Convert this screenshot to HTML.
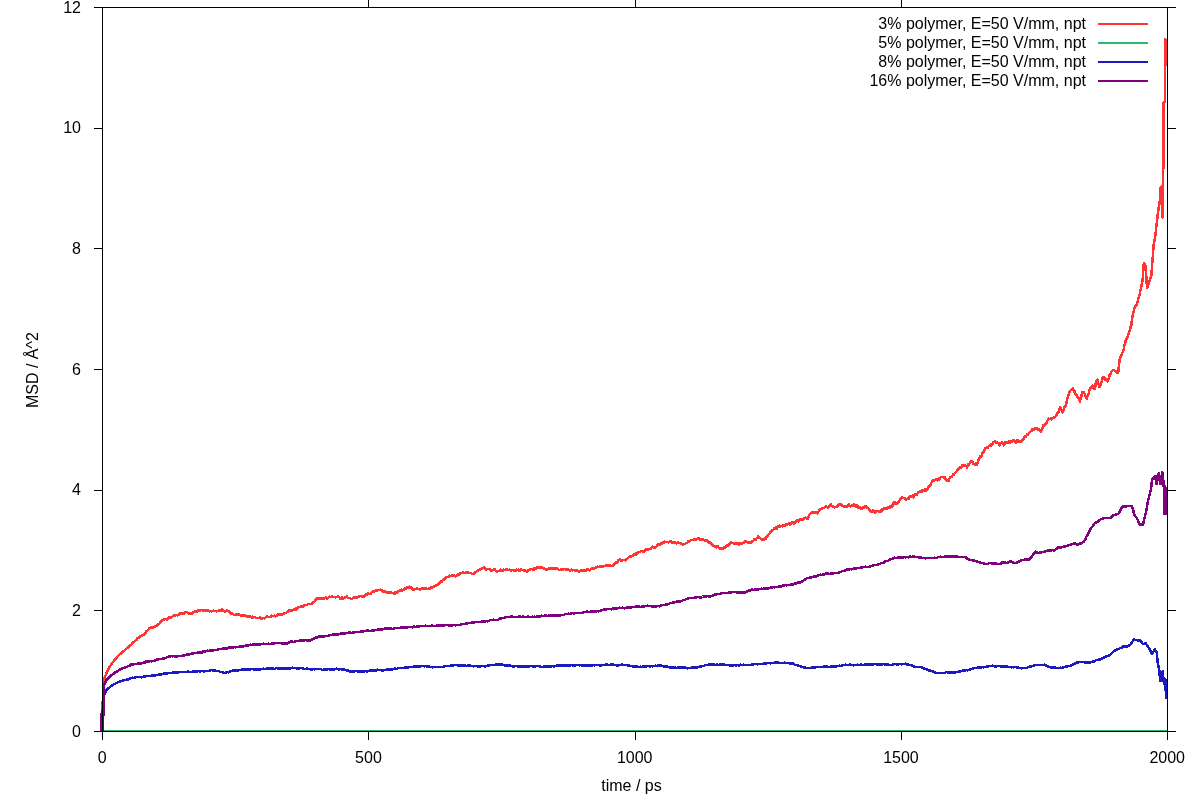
<!DOCTYPE html>
<html><head><meta charset="utf-8"><style>
html,body{margin:0;padding:0;background:#fff;width:1200px;height:800px;overflow:hidden}
svg{display:block;will-change:transform}
text{font-family:"Liberation Sans",sans-serif;font-size:16px;fill:#000}
</style></head><body>
<svg width="1200" height="800" viewBox="0 0 1200 800">
<rect width="1200" height="800" fill="#fff"/>
<g fill="none" stroke-linejoin="round" stroke-linecap="butt" shape-rendering="crispEdges">
<path d="M102.50,731.50 102.50,714.00 103.10,684.00 103.73,681.50 104.37,679.00 105.00,676.50 105.54,675.33 106.07,674.16 106.61,672.99 107.14,671.81 107.68,670.64 108.21,669.47 108.75,668.30 109.29,667.47 109.82,666.64 110.36,665.81 110.89,664.99 111.43,664.16 111.96,663.33 112.50,662.50 113.07,661.84 113.64,661.17 114.20,660.51 114.77,659.85 115.34,659.18 115.91,658.52 116.48,657.85 117.05,657.19 117.61,656.53 118.18,655.86 118.75,655.20 119.32,654.73 119.89,654.25 120.45,653.78 121.02,653.31 121.59,652.84 122.16,652.36 122.73,651.89 123.30,651.42 123.86,650.95 124.43,650.47 125.00,650.00 125.57,649.49 126.14,648.98 126.70,648.47 127.27,647.96 127.84,647.45 128.41,646.95 128.98,646.44 129.55,645.93 130.11,644.99 130.68,645.13 131.25,645.12 131.82,643.84 132.39,642.81 132.95,642.46 133.52,642.38 134.09,641.92 134.66,641.50 135.23,640.53 135.80,640.34 136.36,640.26 136.93,639.41 137.50,638.27 138.07,637.73 138.64,637.85 139.20,636.79 139.77,636.62 140.34,636.00 140.91,635.81 141.48,635.51 142.05,635.28 142.61,635.59 143.18,635.23 143.75,635.23 144.32,634.38 144.89,633.51 145.45,633.10 146.02,631.36 146.59,631.16 147.16,630.94 147.73,630.05 148.30,629.98 148.86,629.34 149.43,627.98 150.00,627.81 150.57,627.50 151.14,627.40 151.70,627.41 152.27,627.91 152.84,627.70 153.41,627.43 153.98,627.35 154.55,626.33 155.11,626.80 155.68,626.11 156.25,626.18 156.82,625.24 157.39,624.49 157.95,624.06 158.52,624.53 159.09,624.19 159.66,623.26 160.23,622.60 160.80,621.64 161.36,621.28 161.93,620.65 162.50,620.58 163.07,619.81 163.64,619.64 164.20,619.24 164.77,618.95 165.34,619.26 165.91,619.15 166.48,619.19 167.05,619.38 167.61,619.42 168.18,618.35 168.75,618.33 169.32,617.28 169.89,617.18 170.45,617.82 171.02,617.31 171.59,616.81 172.16,616.60 172.73,616.32 173.30,616.04 173.86,615.46 174.43,615.72 175.00,615.73 175.56,615.31 176.11,615.19 176.67,615.20 177.22,615.31 177.78,615.07 178.33,614.98 178.89,614.48 179.44,613.77 180.00,613.48 180.56,613.84 181.11,614.01 181.67,613.74 182.22,613.22 182.78,613.18 183.33,613.64 183.89,613.77 184.44,612.99 185.00,612.67 185.55,612.05 186.09,611.78 186.64,612.15 187.18,612.36 187.73,612.89 188.27,613.38 188.82,613.55 189.36,613.88 189.91,613.37 190.45,612.81 191.00,613.11 191.53,613.93 192.07,613.46 192.60,612.46 193.13,612.29 193.67,612.57 194.20,611.69 194.73,611.77 195.27,611.18 195.80,611.47 196.33,611.39 196.87,611.07 197.40,611.46 197.93,610.68 198.47,609.96 199.00,610.44 199.53,609.90 200.07,610.81 200.60,610.55 201.13,610.00 201.67,610.08 202.20,610.22 202.73,610.38 203.27,610.35 203.80,610.88 204.33,609.89 204.87,609.97 205.40,610.18 205.93,611.19 206.47,610.35 207.00,610.49 207.53,610.16 208.07,610.12 208.60,610.60 209.13,610.82 209.67,611.37 210.20,610.90 210.73,610.92 211.27,611.29 211.80,611.41 212.33,610.98 212.87,611.27 213.40,610.62 213.93,611.27 214.47,611.03 215.00,610.75 215.55,610.77 216.09,611.02 216.64,611.56 217.18,611.17 217.73,610.83 218.27,611.00 218.82,610.53 219.36,609.89 219.91,610.50 220.45,610.42 221.00,610.99 221.55,610.50 222.09,609.44 222.64,610.02 223.18,610.36 223.73,611.18 224.27,611.31 224.82,611.31 225.36,611.44 225.91,611.14 226.45,611.14 227.00,610.56 227.53,611.14 228.07,611.07 228.60,611.25 229.13,611.90 229.67,612.50 230.20,612.20 230.73,613.29 231.27,613.04 231.80,613.53 232.33,613.98 232.87,614.06 233.40,614.17 233.93,614.97 234.47,615.21 235.00,615.27 235.56,614.31 236.11,614.12 236.67,614.78 237.22,614.86 237.78,614.46 238.33,614.34 238.89,614.42 239.44,614.90 240.00,615.11 240.56,615.52 241.11,615.08 241.67,615.54 242.22,615.26 242.78,615.18 243.33,615.97 243.89,615.84 244.44,615.69 245.00,615.58 245.54,615.45 246.07,616.16 246.61,616.58 247.14,616.61 247.68,616.43 248.21,616.67 248.75,616.40 249.29,616.45 249.82,616.48 250.36,616.39 250.89,616.97 251.43,617.42 251.96,617.57 252.50,616.37 253.06,617.19 253.62,617.32 254.19,616.98 254.75,616.97 255.31,617.48 255.88,617.88 256.44,618.06 257.00,617.93 257.56,617.85 258.12,618.16 258.69,618.04 259.25,617.68 259.81,617.59 260.38,617.77 260.94,618.12 261.50,619.18 262.05,618.20 262.59,618.24 263.14,618.00 263.68,617.95 264.23,618.29 264.77,618.43 265.32,617.92 265.86,617.36 266.41,616.63 266.95,616.61 267.50,617.09 268.04,616.81 268.57,616.99 269.11,617.09 269.64,617.00 270.18,617.20 270.71,616.82 271.25,616.25 271.79,615.71 272.32,616.17 272.86,615.94 273.39,615.77 273.93,616.10 274.46,615.64 275.00,616.34 275.54,616.27 276.07,615.70 276.61,615.23 277.14,615.56 277.68,614.82 278.21,614.50 278.75,614.50 279.29,614.54 279.82,614.44 280.36,614.47 280.89,614.15 281.43,613.98 281.96,614.39 282.50,614.36 283.04,613.78 283.57,614.19 284.11,612.90 284.64,612.81 285.18,612.91 285.71,613.03 286.25,612.69 286.79,612.19 287.32,612.18 287.86,611.78 288.39,611.72 288.93,610.26 289.46,610.52 290.00,610.15 290.54,610.57 291.07,610.70 291.61,610.73 292.14,610.22 292.68,610.17 293.21,609.75 293.75,609.64 294.29,609.37 294.82,608.83 295.36,609.55 295.89,609.47 296.43,608.23 296.96,608.54 297.50,607.76 298.04,607.63 298.57,607.34 299.11,607.10 299.64,607.19 300.18,606.95 300.71,606.28 301.25,606.34 301.79,606.47 302.32,607.06 302.86,606.50 303.39,605.75 303.93,605.52 304.46,605.71 305.00,605.15 305.54,604.82 306.07,605.06 306.61,604.94 307.14,604.90 307.68,604.48 308.21,604.07 308.75,603.94 309.29,603.88 309.82,603.71 310.36,603.85 310.89,603.94 311.43,603.95 311.96,603.87 312.50,603.22 313.06,602.29 313.62,602.27 314.19,601.78 314.75,601.32 315.31,600.33 315.88,599.89 316.44,599.25 317.00,598.56 317.55,598.46 318.11,598.01 318.66,598.33 319.21,598.95 319.76,598.58 320.32,598.63 320.87,598.16 321.42,598.53 321.97,599.23 322.53,598.43 323.08,598.27 323.63,598.80 324.18,598.70 324.74,598.51 325.29,597.49 325.84,597.54 326.39,597.98 326.95,598.46 327.50,598.43 328.04,597.89 328.57,597.47 329.11,596.70 329.64,596.47 330.18,597.17 330.71,597.12 331.25,596.56 331.79,597.24 332.32,596.46 332.86,597.10 333.39,596.86 333.93,596.94 334.46,597.11 335.00,597.03 335.54,597.49 336.07,597.30 336.61,597.06 337.14,596.78 337.68,596.30 338.21,596.29 338.75,596.99 339.29,597.40 339.82,597.93 340.36,598.83 340.89,598.64 341.43,598.45 341.96,597.60 342.50,597.49 343.04,598.42 343.57,598.38 344.11,598.10 344.64,598.12 345.18,597.26 345.71,597.13 346.25,596.87 346.79,596.38 347.32,597.24 347.86,597.91 348.39,597.92 348.93,598.15 349.46,597.78 350.00,598.14 350.54,598.38 351.07,598.83 351.61,599.10 352.14,598.83 352.68,598.37 353.21,597.75 353.75,597.40 354.29,597.63 354.82,597.73 355.36,597.55 355.89,598.07 356.43,597.97 356.96,597.63 357.50,597.28 358.04,597.11 358.57,596.55 359.11,596.13 359.64,596.34 360.18,596.08 360.71,595.99 361.25,596.50 361.79,596.23 362.32,596.62 362.86,596.32 363.39,596.69 363.93,596.48 364.46,595.41 365.00,595.87 365.54,595.43 366.07,594.34 366.61,594.38 367.14,594.35 367.68,593.66 368.21,593.40 368.75,593.61 369.29,594.03 369.82,594.11 370.36,594.13 370.89,594.01 371.43,592.41 371.96,591.97 372.50,591.96 373.04,590.79 373.57,591.34 374.11,591.70 374.64,591.21 375.18,590.99 375.71,590.56 376.25,590.58 376.79,590.53 377.32,590.46 377.86,589.94 378.39,590.11 378.93,589.87 379.46,590.17 380.00,590.06 380.60,589.76 381.20,589.71 381.80,590.42 382.40,590.80 383.00,591.57 383.55,592.09 384.09,592.17 384.64,591.57 385.18,591.42 385.73,592.08 386.27,591.91 386.82,592.71 387.36,592.81 387.91,593.17 388.45,592.88 389.00,593.06 389.55,591.95 390.09,592.33 390.64,592.91 391.18,592.70 391.73,592.60 392.27,592.86 392.82,593.08 393.36,592.89 393.91,593.36 394.45,592.75 395.00,593.47 395.54,592.68 396.07,592.31 396.61,592.86 397.14,592.21 397.68,591.43 398.21,591.53 398.75,591.12 399.29,590.69 399.82,590.49 400.36,590.27 400.89,589.94 401.43,589.63 401.96,590.41 402.50,589.93 403.06,590.18 403.62,589.30 404.19,589.42 404.75,588.69 405.31,588.44 405.88,588.64 406.44,588.21 407.00,587.26 407.56,587.12 408.12,587.10 408.69,587.30 409.25,586.71 409.81,587.15 410.38,587.71 410.94,587.51 411.50,588.13 412.06,588.38 412.62,589.18 413.19,589.62 413.75,590.01 414.31,588.99 414.88,589.20 415.44,589.19 416.00,588.91 416.56,588.86 417.12,588.48 417.69,588.77 418.25,589.11 418.81,589.27 419.38,588.89 419.94,589.48 420.50,589.50 421.04,588.81 421.57,588.66 422.11,587.95 422.64,588.06 423.18,588.45 423.71,588.92 424.25,588.53 424.79,587.71 425.32,587.79 425.86,588.44 426.39,588.37 426.93,588.76 427.46,588.82 428.00,589.14 428.54,588.87 429.07,588.14 429.61,588.06 430.14,588.81 430.68,588.03 431.21,586.93 431.75,587.75 432.29,587.57 432.82,586.99 433.36,586.57 433.89,585.87 434.43,586.26 434.96,586.26 435.50,585.90 436.06,585.40 436.62,584.92 437.19,585.06 437.75,584.50 438.31,584.62 438.88,583.66 439.44,582.96 440.00,582.41 440.55,581.80 441.09,581.41 441.64,581.43 442.18,581.35 442.73,580.21 443.27,580.22 443.82,579.59 444.36,579.60 444.91,578.73 445.45,577.72 446.00,577.53 446.56,577.58 447.12,577.14 447.69,577.01 448.25,576.94 448.81,576.93 449.38,576.08 449.94,575.69 450.50,575.90 451.06,576.09 451.62,575.88 452.19,575.20 452.75,575.97 453.31,575.79 453.88,575.34 454.44,576.07 455.00,576.34 455.55,576.33 456.09,576.16 456.64,575.88 457.18,574.99 457.73,574.73 458.27,574.61 458.82,574.58 459.36,574.42 459.91,573.64 460.45,573.21 461.00,572.96 461.55,572.99 462.09,572.74 462.64,572.19 463.18,572.07 463.73,572.61 464.27,572.83 464.82,573.22 465.36,572.49 465.91,572.59 466.45,573.19 467.00,572.43 467.55,572.28 468.09,571.95 468.64,572.89 469.18,573.04 469.73,572.89 470.27,573.09 470.82,573.12 471.36,573.55 471.91,573.94 472.45,574.09 473.00,573.97 473.55,573.75 474.09,573.53 474.64,573.42 475.18,572.04 475.73,571.90 476.27,571.60 476.82,571.33 477.36,570.89 477.91,570.56 478.45,570.47 479.00,570.20 479.55,570.09 480.09,569.51 480.64,569.01 481.18,568.86 481.73,568.31 482.27,568.42 482.82,568.33 483.36,567.86 483.91,567.46 484.45,567.75 485.00,567.87 485.54,569.20 486.07,569.58 486.61,569.19 487.14,569.07 487.68,568.80 488.21,568.74 488.75,568.90 489.29,569.15 489.82,569.11 490.36,569.69 490.89,570.03 491.43,570.81 491.96,570.04 492.50,570.34 493.04,570.13 493.57,569.51 494.11,569.64 494.64,569.21 495.18,569.58 495.71,570.97 496.25,571.33 496.79,571.80 497.32,571.88 497.86,570.84 498.39,570.96 498.93,570.95 499.46,571.08 500.00,570.58 500.54,569.75 501.07,570.82 501.61,571.13 502.14,570.96 502.68,570.49 503.21,570.42 503.75,569.77 504.29,570.20 504.82,570.14 505.36,569.94 505.89,569.66 506.43,569.60 506.96,569.61 507.50,569.37 508.04,569.87 508.57,569.92 509.11,569.85 509.64,569.51 510.18,570.14 510.71,570.61 511.25,570.69 511.79,569.75 512.32,569.74 512.86,570.29 513.39,570.29 513.93,570.81 514.46,570.48 515.00,570.78 515.54,570.84 516.07,569.69 516.61,569.75 517.14,569.86 517.68,569.78 518.21,569.62 518.75,570.52 519.29,570.43 519.82,570.75 520.36,570.10 520.89,569.38 521.43,569.54 521.96,570.01 522.50,569.87 523.06,570.32 523.62,570.74 524.19,570.52 524.75,570.55 525.31,570.31 525.88,570.89 526.44,571.57 527.00,571.52 527.55,570.83 528.09,570.21 528.64,569.89 529.18,570.07 529.73,569.45 530.27,569.86 530.82,568.97 531.36,568.79 531.91,569.12 532.45,569.46 533.00,568.72 533.55,568.76 534.09,569.45 534.64,569.32 535.18,567.84 535.73,567.82 536.27,568.62 536.82,567.68 537.36,567.86 537.91,566.73 538.45,567.42 539.00,566.87 539.55,567.47 540.09,567.98 540.64,566.91 541.18,566.82 541.73,567.54 542.27,567.35 542.82,567.91 543.36,567.98 543.91,569.03 544.45,569.06 545.00,568.99 545.55,569.35 546.09,569.79 546.64,569.51 547.19,569.48 547.73,569.52 548.28,569.12 548.83,568.55 549.38,568.84 549.92,568.66 550.47,568.10 551.02,568.60 551.56,568.74 552.11,568.69 552.66,568.27 553.20,568.18 553.75,568.44 554.30,568.67 554.84,568.32 555.39,568.07 555.94,568.44 556.48,568.63 557.03,569.06 557.58,568.55 558.12,569.07 558.67,569.78 559.22,569.95 559.77,569.76 560.31,569.96 560.86,569.23 561.41,569.11 561.95,570.06 562.50,569.22 563.05,568.86 563.59,569.43 564.14,569.23 564.69,569.14 565.23,568.88 565.78,569.85 566.33,569.58 566.88,569.56 567.42,568.93 567.97,569.57 568.52,569.70 569.06,570.01 569.61,570.66 570.16,570.54 570.70,569.92 571.25,569.60 571.79,569.84 572.33,570.51 572.87,569.96 573.40,569.99 573.94,570.06 574.48,570.45 575.02,570.09 575.56,570.36 576.10,570.73 576.63,570.67 577.17,570.62 577.71,570.88 578.25,571.06 578.79,571.46 579.33,570.80 579.87,571.31 580.40,571.07 580.94,570.55 581.48,570.46 582.02,570.14 582.56,570.36 583.10,571.01 583.63,570.14 584.17,570.00 584.71,570.70 585.25,570.76 585.80,571.03 586.34,570.30 586.89,570.27 587.44,569.16 587.98,569.08 588.53,569.60 589.08,570.08 589.62,570.51 590.17,570.06 590.72,569.37 591.27,569.05 591.81,568.16 592.36,568.83 592.91,569.14 593.45,568.45 594.00,569.04 594.55,568.11 595.09,568.21 595.64,567.68 596.19,566.89 596.73,567.18 597.28,566.70 597.83,567.27 598.38,566.76 598.92,566.77 599.47,566.49 600.02,566.50 600.56,566.15 601.11,566.45 601.66,566.51 602.20,566.28 602.75,566.00 603.30,566.76 603.84,566.20 604.39,565.92 604.94,566.22 605.48,566.11 606.03,565.38 606.58,565.50 607.12,565.48 607.67,565.22 608.22,565.52 608.77,565.19 609.31,565.33 609.86,565.06 610.41,565.97 610.95,565.83 611.50,566.03 612.05,565.78 612.59,565.66 613.14,565.14 613.69,565.04 614.23,564.61 614.78,563.18 615.33,563.23 615.88,562.50 616.42,562.82 616.97,562.62 617.52,562.14 618.06,560.84 618.61,560.03 619.16,559.76 619.70,559.79 620.25,559.30 620.83,560.49 621.42,560.65 622.00,560.51 622.58,560.04 623.17,559.96 623.75,559.93 624.33,559.81 624.92,559.85 625.50,560.22 626.08,559.04 626.67,558.90 627.25,559.02 627.83,557.96 628.42,557.59 629.00,557.12 629.55,556.51 630.09,556.85 630.64,556.48 631.19,556.73 631.73,556.51 632.28,556.00 632.83,555.79 633.38,555.29 633.92,554.36 634.47,554.88 635.02,554.71 635.56,554.82 636.11,553.61 636.66,553.86 637.20,553.85 637.75,553.40 638.30,552.23 638.84,552.27 639.39,551.91 639.94,551.79 640.48,551.74 641.03,551.24 641.58,551.15 642.12,551.08 642.67,551.54 643.22,551.14 643.77,551.80 644.31,550.73 644.86,550.37 645.41,550.62 645.95,549.57 646.50,549.68 647.05,549.65 647.59,549.18 648.14,548.95 648.69,549.46 649.23,548.95 649.78,548.85 650.33,548.78 650.88,549.00 651.42,547.77 651.97,547.14 652.52,546.71 653.06,546.80 653.61,547.17 654.16,547.45 654.70,547.13 655.25,547.59 655.83,546.84 656.42,546.47 657.00,545.47 657.58,545.26 658.17,544.33 658.75,544.29 659.30,544.36 659.86,544.77 660.41,544.08 660.96,543.28 661.51,543.50 662.07,543.40 662.62,542.95 663.17,542.28 663.72,542.65 664.28,541.75 664.83,541.70 665.38,542.25 665.93,542.04 666.49,542.14 667.04,542.18 667.59,542.20 668.14,542.36 668.70,542.26 669.25,541.74 669.83,541.26 670.42,541.37 671.00,541.34 671.58,541.79 672.17,542.47 672.75,542.78 673.33,542.44 673.92,542.62 674.50,542.70 675.05,542.56 675.59,543.20 676.14,543.38 676.69,543.42 677.23,542.84 677.78,541.91 678.33,542.08 678.88,542.97 679.42,543.05 679.97,543.20 680.52,543.23 681.06,543.58 681.61,543.64 682.16,544.40 682.70,544.19 683.25,544.03 683.79,544.31 684.33,544.16 684.87,543.96 685.40,543.68 685.94,543.19 686.48,542.93 687.02,542.78 687.56,542.42 688.10,541.31 688.63,541.80 689.17,541.31 689.71,540.87 690.25,540.59 690.84,540.23 691.44,539.86 692.03,539.88 692.62,540.23 693.22,539.93 693.81,539.97 694.41,539.21 695.00,539.50 695.54,539.05 696.07,539.50 696.61,539.23 697.14,539.10 697.68,538.76 698.21,538.53 698.75,538.81 699.29,538.69 699.82,538.92 700.36,539.63 700.89,539.31 701.43,539.31 701.96,539.40 702.50,539.26 703.06,539.52 703.62,539.85 704.19,540.45 704.75,540.16 705.31,540.23 705.88,540.33 706.44,541.02 707.00,540.60 707.55,541.20 708.09,542.00 708.64,542.62 709.18,542.66 709.73,542.71 710.27,542.56 710.82,543.17 711.36,543.85 711.91,543.94 712.45,545.14 713.00,545.81 713.56,545.91 714.12,545.91 714.69,546.37 715.25,546.41 715.81,546.81 716.38,546.71 716.94,547.35 717.50,546.68 718.06,546.51 718.62,547.67 719.19,548.17 719.75,548.80 720.31,548.23 720.88,548.55 721.44,548.92 722.00,549.19 722.55,548.50 723.11,548.66 723.66,548.22 724.21,547.08 724.76,547.86 725.32,547.26 725.87,547.26 726.42,546.32 726.97,545.48 727.53,545.62 728.08,545.59 728.63,544.79 729.18,544.59 729.74,543.67 730.29,542.64 730.84,543.24 731.39,542.55 731.95,542.83 732.50,543.06 733.04,543.15 733.57,543.73 734.11,543.62 734.64,543.53 735.18,543.35 735.71,543.44 736.25,543.48 736.79,542.94 737.32,543.00 737.86,542.90 738.39,544.29 738.93,544.51 739.46,543.77 740.00,543.91 740.54,542.79 741.07,542.81 741.61,543.58 742.14,543.27 742.68,543.56 743.21,542.96 743.75,542.90 744.29,542.77 744.82,541.48 745.36,541.21 745.89,542.21 746.43,541.59 746.96,542.07 747.50,542.58 748.06,542.29 748.62,542.62 749.19,542.57 749.75,542.13 750.31,542.41 750.88,542.56 751.44,542.03 752.00,541.96 752.55,541.02 753.09,540.73 753.64,540.54 754.18,539.83 754.73,538.81 755.27,539.18 755.82,539.57 756.36,538.67 756.91,538.40 757.45,537.73 758.00,536.23 758.54,537.84 759.07,538.09 759.61,537.49 760.14,538.39 760.68,538.77 761.21,539.38 761.75,539.51 762.29,539.53 762.82,540.01 763.36,539.56 763.89,539.53 764.43,538.92 764.96,538.52 765.50,538.93 766.05,538.33 766.59,536.79 767.14,536.42 767.68,536.22 768.23,534.71 768.77,533.88 769.32,534.04 769.86,532.64 770.41,532.12 770.95,531.61 771.50,530.69 772.05,530.30 772.59,530.14 773.14,529.80 773.68,529.39 774.23,528.23 774.77,528.18 775.32,527.55 775.86,528.14 776.41,528.78 776.95,528.56 777.50,526.71 778.04,527.16 778.57,527.00 779.11,526.27 779.64,525.69 780.18,526.41 780.71,526.02 781.25,526.02 781.79,526.06 782.32,526.50 782.86,524.97 783.39,525.87 783.93,525.42 784.46,525.30 785.00,525.71 785.54,525.75 786.07,524.37 786.61,524.87 787.14,524.76 787.68,524.20 788.21,523.98 788.75,523.28 789.29,523.96 789.82,524.72 790.36,524.10 790.89,523.71 791.43,522.90 791.96,522.69 792.50,522.33 793.04,522.43 793.57,523.28 794.11,523.39 794.64,523.33 795.18,522.19 795.71,522.25 796.25,521.40 796.79,520.64 797.32,520.87 797.86,520.50 798.39,521.48 798.93,520.85 799.46,520.08 800.00,520.00 800.54,519.06 801.07,519.35 801.61,519.97 802.14,519.46 802.68,518.89 803.21,519.33 803.75,518.41 804.29,518.55 804.82,518.13 805.36,518.25 805.89,517.72 806.43,518.07 806.96,518.24 807.50,518.95 808.04,517.73 808.57,517.13 809.11,515.35 809.64,514.46 810.18,514.22 810.71,512.97 811.25,512.59 811.81,512.23 812.38,512.67 812.94,512.99 813.50,512.59 814.06,512.89 814.62,512.39 815.19,512.38 815.75,512.55 816.31,512.64 816.88,512.68 817.44,513.26 818.00,512.34 818.56,511.66 819.12,510.17 819.69,510.50 820.25,509.50 820.81,508.98 821.38,508.54 821.94,508.62 822.50,508.15 823.04,507.95 823.57,507.96 824.11,507.69 824.64,507.63 825.18,507.00 825.71,506.77 826.25,506.20 826.79,506.90 827.32,507.34 827.86,507.45 828.39,507.29 828.93,506.61 829.46,506.74 830.00,505.61 830.54,504.41 831.07,504.32 831.61,505.74 832.14,505.98 832.68,506.86 833.21,506.17 833.75,506.67 834.29,507.31 834.82,507.39 835.36,507.04 835.89,507.24 836.43,506.51 836.96,507.25 837.50,506.10 838.10,505.27 838.70,505.06 839.30,504.37 839.90,505.24 840.50,505.11 841.06,504.57 841.62,505.63 842.19,506.21 842.75,505.66 843.31,506.44 843.88,506.80 844.44,506.13 845.00,505.70 845.53,505.78 846.07,506.30 846.60,506.88 847.13,507.21 847.67,506.29 848.20,504.91 848.73,504.04 849.27,505.28 849.80,505.84 850.33,506.28 850.87,505.87 851.40,505.64 851.93,505.71 852.47,505.73 853.00,505.51 853.55,505.05 854.09,504.60 854.64,505.28 855.18,505.64 855.73,506.89 856.27,506.36 856.82,505.57 857.36,505.14 857.91,506.07 858.45,507.79 859.00,507.84 859.55,507.30 860.09,507.51 860.64,508.28 861.18,508.46 861.73,508.40 862.27,508.33 862.82,507.51 863.36,507.12 863.91,506.99 864.45,507.67 865.00,505.69 865.55,505.92 866.09,506.77 866.64,507.13 867.18,507.59 867.73,507.96 868.27,507.95 868.82,508.96 869.36,510.27 869.91,510.30 870.45,510.95 871.00,511.93 871.56,511.19 872.11,511.03 872.67,510.18 873.22,511.34 873.78,512.19 874.33,511.58 874.89,512.50 875.44,512.41 876.00,510.70 876.56,510.97 877.11,510.99 877.67,511.14 878.22,511.34 878.78,510.78 879.33,511.35 879.89,511.23 880.44,512.10 881.00,511.44 881.56,509.37 882.11,510.63 882.67,510.58 883.22,509.01 883.78,508.66 884.33,508.25 884.89,508.97 885.44,508.43 886.00,509.11 886.56,508.47 887.11,508.89 887.67,508.13 888.22,507.20 888.78,507.63 889.33,507.34 889.89,507.55 890.44,506.27 891.00,505.74 891.55,505.49 892.09,506.62 892.64,506.24 893.18,504.53 893.73,502.32 894.27,503.83 894.82,503.73 895.36,502.51 895.91,502.96 896.45,503.03 897.00,503.74 897.53,503.01 898.07,502.01 898.60,502.08 899.13,500.66 899.67,500.20 900.20,499.46 900.73,499.14 901.27,498.39 901.80,497.69 902.33,497.35 902.87,498.00 903.40,498.11 903.93,498.02 904.47,498.23 905.00,498.45 905.53,498.54 906.07,499.60 906.60,499.14 907.13,498.87 907.67,498.11 908.20,498.60 908.73,499.12 909.27,496.61 909.80,497.36 910.33,496.59 910.87,497.00 911.40,497.08 911.93,496.24 912.47,495.59 913.00,495.85 913.55,497.39 914.09,495.73 914.64,494.98 915.18,494.37 915.73,493.80 916.27,494.15 916.82,494.81 917.36,493.69 917.91,493.06 918.45,491.98 919.00,492.32 919.53,491.75 920.07,491.83 920.60,491.27 921.13,491.73 921.67,491.23 922.20,490.35 922.73,491.55 923.27,489.77 923.80,489.95 924.33,489.69 924.87,489.12 925.40,490.70 925.93,490.56 926.47,489.93 927.00,489.17 927.55,488.75 928.09,487.99 928.64,487.06 929.18,485.90 929.73,486.33 930.27,485.48 930.82,484.38 931.36,482.68 931.91,481.60 932.45,481.63 933.00,480.39 933.53,480.77 934.07,480.41 934.60,480.43 935.13,480.32 935.67,479.63 936.20,479.20 936.73,478.95 937.27,479.19 937.80,480.45 938.33,480.16 938.87,478.39 939.40,479.52 939.93,478.60 940.47,477.51 941.00,477.25 941.57,477.04 942.14,477.09 942.71,476.89 943.29,476.74 943.86,477.49 944.43,478.26 945.00,477.65 945.60,479.05 946.20,479.77 946.80,480.67 947.40,480.87 948.00,481.20 948.56,480.79 949.12,479.11 949.69,478.51 950.25,477.10 950.81,477.39 951.38,476.91 951.94,476.66 952.50,475.67 953.06,474.51 953.62,474.76 954.19,473.77 954.75,473.07 955.31,472.59 955.88,472.39 956.44,471.78 957.00,470.42 957.55,469.39 958.09,469.98 958.64,469.28 959.18,468.70 959.73,467.70 960.27,468.15 960.82,467.96 961.36,466.95 961.91,465.29 962.45,466.50 963.00,465.48 963.57,465.04 964.14,465.33 964.71,465.19 965.29,466.00 965.86,466.28 966.43,466.12 967.00,467.46 967.57,466.32 968.14,464.60 968.71,464.79 969.29,464.04 969.86,462.91 970.43,461.51 971.00,461.03 971.55,461.34 972.09,461.67 972.64,461.90 973.18,463.36 973.73,464.21 974.27,464.28 974.82,464.53 975.36,464.00 975.91,462.95 976.45,463.71 977.00,464.86 977.55,462.98 978.09,461.37 978.64,459.92 979.18,458.14 979.73,457.95 980.27,456.27 980.82,456.57 981.36,456.62 981.91,455.14 982.45,453.70 983.00,451.78 983.55,451.88 984.09,451.13 984.64,449.27 985.18,448.22 985.73,448.34 986.27,447.50 986.82,447.41 987.36,447.00 987.91,447.39 988.45,446.31 989.00,446.23 989.57,446.21 990.14,446.21 990.71,444.84 991.29,444.24 991.86,445.38 992.43,443.96 993.00,442.58 993.54,442.59 994.08,441.67 994.62,441.34 995.15,441.47 995.69,441.71 996.23,442.86 996.77,442.10 997.31,442.32 997.85,442.83 998.38,442.80 998.92,443.59 999.46,445.27 1000.00,443.95 1000.56,443.03 1001.11,442.66 1001.67,442.34 1002.22,442.10 1002.78,442.63 1003.33,443.93 1003.89,445.31 1004.44,444.28 1005.00,442.06 1005.55,443.29 1006.09,442.91 1006.64,442.31 1007.19,443.02 1007.73,442.54 1008.28,442.11 1008.83,441.29 1009.38,442.08 1009.92,442.52 1010.47,441.49 1011.02,440.99 1011.56,442.00 1012.11,441.15 1012.66,440.78 1013.20,440.24 1013.75,440.25 1014.32,441.27 1014.89,441.38 1015.45,442.21 1016.02,442.49 1016.59,440.71 1017.16,441.10 1017.73,441.39 1018.30,440.36 1018.86,441.59 1019.43,441.81 1020.00,441.64 1020.56,441.55 1021.11,441.60 1021.67,441.22 1022.22,439.77 1022.78,438.95 1023.33,440.10 1023.89,437.72 1024.44,436.97 1025.00,436.21 1025.54,436.81 1026.07,436.35 1026.61,435.57 1027.14,434.49 1027.68,434.79 1028.21,433.92 1028.75,433.04 1029.29,432.49 1029.82,432.37 1030.36,431.61 1030.89,431.11 1031.43,431.03 1031.96,429.62 1032.50,428.89 1033.06,428.96 1033.61,429.47 1034.17,429.71 1034.72,429.04 1035.28,428.15 1035.83,428.06 1036.39,427.89 1036.94,428.88 1037.50,429.32 1038.12,429.81 1038.74,429.44 1039.36,429.22 1039.98,430.42 1040.60,431.82 1041.23,430.77 1041.86,429.10 1042.49,428.19 1043.12,425.09 1043.75,425.06 1044.31,425.66 1044.86,424.80 1045.42,424.09 1045.97,423.06 1046.53,423.06 1047.08,421.42 1047.64,420.40 1048.19,420.31 1048.75,418.59 1049.32,419.05 1049.89,419.23 1050.45,418.86 1051.02,418.12 1051.59,419.33 1052.16,418.19 1052.73,417.88 1053.30,418.10 1053.86,417.47 1054.43,417.81 1055.00,417.08 1055.56,416.21 1056.11,415.14 1056.67,414.70 1057.22,413.08 1057.78,412.98 1058.33,412.77 1058.89,410.66 1059.44,408.62 1060.00,407.12 1060.62,407.66 1061.25,409.42 1061.88,410.27 1062.50,412.52 1063.04,412.32 1063.57,409.28 1064.11,407.83 1064.64,406.58 1065.18,406.96 1065.71,406.18 1066.25,403.75 1066.88,400.00 1067.50,398.22 1068.05,395.75 1068.60,394.74 1069.15,392.95 1069.70,391.50 1070.25,391.20 1070.80,389.74 1071.35,389.78 1071.90,389.37 1072.45,388.41 1073.00,387.95 1073.54,389.91 1074.08,391.60 1074.62,391.28 1075.17,392.98 1075.71,394.74 1076.25,395.26 1076.79,395.34 1077.32,396.92 1077.86,397.70 1078.39,397.97 1078.93,399.43 1079.46,400.18 1080.00,401.54 1080.60,398.84 1081.20,397.70 1081.80,393.96 1082.40,392.11 1083.00,392.35 1083.56,392.07 1084.11,392.85 1084.67,393.47 1085.23,394.86 1085.79,396.63 1086.34,398.47 1086.90,398.48 1087.52,396.36 1088.14,394.73 1088.76,393.22 1089.38,390.33 1090.00,389.13 1090.56,387.23 1091.11,387.43 1091.67,386.13 1092.22,386.03 1092.78,385.67 1093.33,387.61 1093.89,388.81 1094.44,388.83 1095.00,388.30 1095.62,384.28 1096.25,381.19 1096.88,380.13 1097.50,379.27 1098.13,382.62 1098.77,384.74 1099.40,387.07 1100.02,385.63 1100.64,385.42 1101.26,383.21 1101.88,380.34 1102.50,377.61 1103.06,378.10 1103.61,378.43 1104.17,377.25 1104.72,379.17 1105.28,379.61 1105.83,380.11 1106.39,379.68 1106.94,380.87 1107.50,381.69 1108.04,379.51 1108.57,379.26 1109.11,377.24 1109.64,374.57 1110.18,374.82 1110.71,373.05 1111.25,371.92 1111.81,370.84 1112.37,370.67 1112.92,370.08 1113.48,369.93 1114.04,369.88 1114.60,370.66 1115.18,370.97 1115.77,371.37 1116.35,371.74 1116.93,372.41 1117.52,373.07 1118.10,373.10 1118.70,367.37 1119.30,362.33 1119.90,358.68 1120.55,357.19 1121.20,355.68 1121.85,354.14 1122.50,352.49 1123.08,351.55 1123.67,349.87 1124.25,346.14 1124.83,344.18 1125.42,341.91 1126.00,339.22 1126.65,338.80 1127.30,337.35 1127.95,335.65 1128.60,333.18 1129.13,332.43 1129.66,330.72 1130.19,329.04 1130.72,326.46 1131.25,326.12 1131.83,320.45 1132.42,317.37 1133.00,314.24 1133.58,311.66 1134.17,309.35 1134.75,307.45 1135.28,306.42 1135.81,305.68 1136.34,305.72 1136.87,304.50 1137.40,302.76 1138.05,300.00 1138.70,297.84 1139.35,296.00 1140.00,292.50 1140.65,289.44 1141.30,286.38 1141.95,283.31 1142.60,280.25 1143.22,271.50 1143.85,262.75 1144.43,263.92 1145.02,265.08 1145.60,266.25 1146.30,277.18 1147.00,288.10 1147.55,286.46 1148.10,284.83 1148.65,283.19 1149.20,281.55 1149.75,279.91 1150.30,278.27 1150.85,276.64 1151.40,275.00 1151.95,267.62 1152.50,260.25 1153.05,252.88 1153.60,245.50 1154.20,242.00 1154.80,238.50 1155.40,235.00 1156.05,229.25 1156.70,223.50 1157.35,217.75 1158.00,212.00 1158.58,208.58 1159.17,205.17 1159.75,201.75 1160.60,187.75 1161.30,186.88 1162.00,186.00 1162.40,217.50 1163.30,166.75 1163.70,102.20 1164.40,102.20 1165.10,102.20 1165.10,39.00 1165.78,41.00 1166.45,43.00 1166.45,65.75" stroke="#ff3535" stroke-width="2.5"/>
<path d="M102.5,730.5H1167.5" stroke="#2ab870" stroke-width="1.5"/>
<path d="M102.50,731.50 102.50,714.00 103.12,705.15 103.75,696.30 104.38,694.75 105.00,693.20 105.62,691.65 106.25,690.10 106.82,689.64 107.39,689.17 107.95,688.71 108.52,688.25 109.09,687.78 109.66,687.32 110.23,686.85 110.80,686.39 111.36,685.93 111.93,685.46 112.50,685.00 113.07,684.73 113.64,684.45 114.20,684.18 114.77,683.91 115.34,683.64 115.91,683.36 116.48,683.09 117.05,682.82 117.61,682.55 118.18,682.27 118.75,682.00 119.32,681.82 119.89,681.64 120.45,681.45 121.02,681.27 121.59,681.09 122.16,680.91 122.73,680.73 123.30,680.55 123.86,680.36 124.43,680.18 125.00,680.00 125.54,679.89 126.09,679.78 126.63,679.67 127.17,679.57 127.72,679.46 128.26,679.35 128.80,679.24 129.35,679.13 129.89,679.02 130.43,678.22 130.98,678.25 131.52,677.92 132.07,677.94 132.61,677.73 133.15,678.02 133.70,678.12 134.24,677.92 134.78,677.51 135.33,677.34 135.87,677.30 136.41,677.09 136.96,677.11 137.50,677.23 138.04,677.19 138.59,677.09 139.13,677.20 139.67,677.10 140.22,677.20 140.76,677.08 141.30,677.29 141.85,677.15 142.39,676.88 142.93,676.85 143.48,676.69 144.02,676.50 144.57,676.47 145.11,676.58 145.65,676.17 146.20,676.18 146.74,676.17 147.28,676.14 147.83,676.27 148.37,676.02 148.91,676.13 149.46,676.07 150.00,676.06 150.54,675.91 151.09,675.74 151.63,675.55 152.17,675.52 152.72,675.76 153.26,675.76 153.80,675.70 154.35,675.59 154.89,675.29 155.43,675.21 155.98,675.36 156.52,674.90 157.07,674.85 157.61,674.82 158.15,674.65 158.70,674.57 159.24,674.58 159.78,674.71 160.33,674.64 160.87,674.62 161.41,674.35 161.96,674.20 162.50,673.94 163.04,673.82 163.57,673.60 164.11,673.59 164.64,673.72 165.18,673.55 165.71,673.47 166.25,673.46 166.79,673.35 167.32,673.41 167.86,673.33 168.39,673.03 168.93,672.80 169.46,672.89 170.00,672.95 170.54,673.07 171.07,673.03 171.61,672.98 172.14,672.64 172.68,672.84 173.21,672.62 173.75,672.76 174.29,672.51 174.82,672.38 175.36,672.40 175.89,672.31 176.43,672.19 176.96,672.35 177.50,672.44 178.04,672.47 178.57,672.36 179.11,672.19 179.64,672.10 180.18,672.01 180.71,672.01 181.25,672.14 181.79,672.09 182.32,671.94 182.86,671.84 183.39,672.07 183.93,672.07 184.46,672.07 185.00,672.08 185.54,672.13 186.08,672.10 186.62,672.24 187.16,672.29 187.70,671.73 188.24,671.70 188.78,672.18 189.32,671.88 189.86,671.86 190.41,671.99 190.95,671.92 191.49,672.08 192.03,671.77 192.57,671.52 193.11,671.47 193.65,671.34 194.19,671.18 194.73,671.30 195.27,671.36 195.81,671.35 196.35,671.28 196.89,671.32 197.43,671.29 197.97,671.15 198.51,671.24 199.05,671.29 199.59,671.28 200.14,671.37 200.68,671.13 201.22,671.10 201.76,671.00 202.30,671.22 202.84,671.26 203.38,671.56 203.92,671.71 204.46,671.51 205.00,671.22 205.56,671.23 206.11,671.11 206.67,671.02 207.22,670.79 207.78,670.87 208.33,670.86 208.89,670.88 209.44,670.88 210.00,670.68 210.56,670.28 211.11,670.26 211.67,670.19 212.22,670.14 212.78,670.33 213.33,670.32 213.89,670.56 214.44,670.54 215.00,670.60 215.56,670.77 216.11,670.97 216.67,670.81 217.22,671.09 217.78,671.18 218.33,671.09 218.89,671.30 219.44,671.45 220.00,671.74 220.56,671.92 221.11,672.02 221.67,671.80 222.22,672.17 222.78,672.48 223.33,672.63 223.89,672.72 224.44,672.94 225.00,672.80 225.54,672.77 226.08,672.61 226.62,672.30 227.16,672.25 227.70,672.19 228.24,672.36 228.78,672.35 229.32,671.91 229.86,671.48 230.41,671.41 230.95,671.31 231.49,671.10 232.03,670.83 232.57,670.79 233.11,670.59 233.65,670.48 234.19,670.64 234.73,670.65 235.27,670.48 235.81,670.27 236.35,670.23 236.89,670.50 237.43,670.34 237.97,670.57 238.51,670.32 239.05,670.20 239.59,670.24 240.14,670.01 240.68,669.94 241.22,669.64 241.76,669.71 242.30,669.83 242.84,669.62 243.38,669.57 243.92,669.41 244.46,668.98 245.00,669.42 245.54,669.50 246.07,669.61 246.61,669.62 247.14,669.59 247.68,669.94 248.21,669.53 248.75,669.44 249.29,669.35 249.82,669.30 250.36,669.42 250.89,669.28 251.43,669.06 251.96,668.92 252.50,669.06 253.04,669.25 253.57,669.39 254.11,669.64 254.64,669.50 255.18,669.63 255.71,669.69 256.25,669.60 256.79,669.42 257.32,669.55 257.86,669.39 258.39,669.33 258.93,669.16 259.46,669.47 260.00,669.44 260.54,669.30 261.07,669.23 261.61,669.17 262.14,669.17 262.68,668.86 263.21,668.69 263.75,668.82 264.29,669.02 264.82,668.84 265.36,668.87 265.89,668.77 266.43,668.41 266.96,668.43 267.50,668.31 268.04,668.53 268.57,668.53 269.11,668.55 269.64,668.33 270.18,668.41 270.71,668.12 271.25,668.24 271.79,668.52 272.32,668.33 272.86,668.50 273.39,668.73 273.93,668.65 274.46,668.80 275.00,668.75 275.54,668.63 276.07,668.27 276.61,668.12 277.14,667.93 277.68,668.41 278.21,668.46 278.75,668.42 279.29,668.20 279.82,668.51 280.36,668.30 280.89,668.56 281.43,668.71 281.96,668.66 282.50,668.50 283.04,668.46 283.57,668.22 284.11,668.34 284.64,668.62 285.18,668.71 285.71,668.81 286.25,668.60 286.79,668.60 287.32,668.37 287.86,668.27 288.39,668.39 288.93,668.77 289.46,668.69 290.00,668.61 290.55,668.24 291.09,668.27 291.64,668.12 292.18,667.91 292.73,667.72 293.27,667.83 293.82,667.83 294.36,668.01 294.91,668.02 295.45,668.05 296.00,668.33 296.55,668.45 297.09,668.54 297.64,668.74 298.18,668.69 298.73,668.45 299.27,668.29 299.82,668.02 300.36,668.12 300.91,668.07 301.45,668.19 302.00,668.34 302.55,668.27 303.11,668.39 303.66,668.68 304.21,668.74 304.76,668.94 305.32,668.94 305.87,668.83 306.42,668.86 306.97,668.63 307.53,668.88 308.08,668.90 308.63,669.24 309.18,669.11 309.74,669.24 310.29,669.39 310.84,669.44 311.39,669.60 311.95,669.55 312.50,669.47 313.04,669.27 313.57,669.24 314.11,669.16 314.64,669.28 315.18,669.27 315.71,669.21 316.25,669.14 316.79,668.89 317.32,668.94 317.86,669.10 318.39,668.95 318.93,668.99 319.46,669.18 320.00,669.11 320.54,669.19 321.07,669.16 321.61,669.61 322.14,669.80 322.68,669.93 323.21,669.72 323.75,669.76 324.29,669.66 324.82,669.66 325.36,669.50 325.89,669.49 326.43,669.32 326.96,669.36 327.50,669.63 328.05,669.33 328.61,669.08 329.16,669.18 329.71,669.31 330.26,669.22 330.82,669.30 331.37,669.34 331.92,669.39 332.47,669.57 333.03,669.38 333.58,669.43 334.13,669.40 334.68,669.22 335.24,669.27 335.79,669.00 336.34,668.75 336.89,668.96 337.45,668.77 338.00,669.08 338.55,669.34 339.09,669.32 339.64,669.25 340.18,668.99 340.73,669.15 341.27,669.04 341.82,669.50 342.36,669.35 342.91,669.54 343.45,669.25 344.00,669.42 344.55,669.86 345.09,669.95 345.64,669.98 346.18,670.07 346.73,670.32 347.27,670.62 347.82,670.70 348.36,670.48 348.91,670.71 349.45,671.03 350.00,671.54 350.54,671.52 351.07,671.50 351.61,671.37 352.14,671.47 352.68,671.73 353.21,671.48 353.75,671.46 354.29,671.25 354.82,671.13 355.36,671.12 355.89,671.22 356.43,671.09 356.96,671.06 357.50,671.32 358.04,671.39 358.57,671.49 359.11,671.51 359.64,671.44 360.18,671.48 360.71,671.52 361.25,671.48 361.79,671.61 362.32,671.55 362.86,671.65 363.39,671.59 363.93,671.65 364.46,671.47 365.00,671.34 365.54,671.09 366.07,671.28 366.61,671.31 367.14,671.28 367.68,671.31 368.21,671.09 368.75,671.06 369.29,670.92 369.82,670.57 370.36,670.55 370.89,670.42 371.43,670.69 371.96,670.54 372.50,670.44 373.04,670.61 373.57,670.58 374.11,670.33 374.64,670.38 375.18,670.25 375.71,670.54 376.25,670.32 376.79,670.18 377.32,669.72 377.86,669.68 378.39,670.07 378.93,670.05 379.46,669.89 380.00,669.96 380.54,669.89 381.07,669.86 381.61,670.25 382.14,670.49 382.68,670.61 383.21,670.71 383.75,670.35 384.29,669.86 384.82,669.90 385.36,669.86 385.89,669.77 386.43,669.64 386.96,669.68 387.50,669.67 388.04,669.60 388.57,669.57 389.11,669.41 389.64,669.25 390.18,669.40 390.71,669.24 391.25,669.47 391.79,669.43 392.32,669.28 392.86,669.33 393.39,669.09 393.93,668.93 394.46,668.76 395.00,668.66 395.54,668.70 396.07,668.97 396.61,668.92 397.14,668.60 397.68,668.36 398.21,667.99 398.75,668.11 399.29,668.22 399.82,668.21 400.36,668.21 400.89,668.22 401.43,668.21 401.96,668.22 402.50,668.16 403.04,667.90 403.57,667.99 404.11,668.13 404.64,667.74 405.18,667.64 405.71,667.40 406.25,667.47 406.79,667.38 407.32,667.59 407.86,667.70 408.39,667.53 408.93,667.37 409.46,667.21 410.00,667.27 410.54,667.06 411.07,667.12 411.61,666.86 412.14,667.04 412.68,667.09 413.21,666.86 413.75,666.72 414.29,666.75 414.82,666.80 415.36,666.30 415.89,666.40 416.43,666.70 416.96,666.61 417.50,666.37 418.04,666.61 418.57,666.64 419.11,666.64 419.64,666.72 420.18,666.46 420.71,666.34 421.25,666.15 421.79,665.99 422.32,665.98 422.86,665.85 423.39,666.19 423.93,666.27 424.46,666.40 425.00,666.07 425.54,666.10 426.07,666.15 426.61,666.24 427.14,666.37 427.68,666.28 428.21,666.19 428.75,666.43 429.29,666.86 429.82,667.19 430.36,667.07 430.89,666.90 431.43,666.92 431.96,666.99 432.50,667.27 433.04,667.18 433.57,667.02 434.11,667.19 434.64,667.04 435.18,666.90 435.71,667.02 436.25,667.01 436.79,666.86 437.32,666.87 437.86,666.86 438.39,666.89 438.93,666.83 439.46,667.01 440.00,667.01 440.54,666.86 441.07,667.00 441.61,666.77 442.14,666.85 442.68,666.88 443.21,666.74 443.75,666.69 444.29,666.35 444.82,666.35 445.36,666.12 445.89,665.95 446.43,665.98 446.96,665.82 447.50,665.82 448.04,665.86 448.57,665.98 449.11,665.96 449.64,666.04 450.18,665.79 450.71,665.64 451.25,665.66 451.79,665.76 452.32,665.71 452.86,665.49 453.39,665.20 453.93,664.97 454.46,665.11 455.00,664.86 455.54,664.88 456.07,665.05 456.61,665.16 457.14,665.07 457.68,665.45 458.21,665.46 458.75,665.50 459.29,665.63 459.82,665.56 460.36,665.67 460.89,665.63 461.43,665.48 461.96,665.34 462.50,665.46 463.04,665.52 463.57,665.53 464.11,665.50 464.64,665.51 465.18,665.70 465.71,665.91 466.25,665.87 466.79,665.93 467.32,665.63 467.86,665.51 468.39,665.48 468.93,665.43 469.46,665.67 470.00,665.40 470.54,665.58 471.07,665.77 471.61,666.17 472.14,666.06 472.68,666.13 473.21,666.35 473.75,666.45 474.29,666.22 474.82,666.12 475.36,665.91 475.89,665.94 476.43,666.06 476.96,666.28 477.50,666.32 478.04,666.42 478.57,666.52 479.11,666.30 479.64,666.36 480.18,666.46 480.71,666.35 481.25,666.14 481.79,666.14 482.32,666.14 482.86,666.23 483.39,665.90 483.93,665.85 484.46,666.21 485.00,666.39 485.54,666.25 486.07,666.09 486.61,665.96 487.14,665.73 487.68,665.61 488.21,665.57 488.75,665.33 489.29,665.32 489.82,665.35 490.36,665.11 490.89,665.04 491.43,664.79 491.96,664.84 492.50,664.90 493.04,664.82 493.57,664.84 494.11,664.93 494.64,665.01 495.18,664.74 495.71,664.67 496.25,664.42 496.79,664.13 497.32,664.36 497.86,664.50 498.39,664.69 498.93,664.76 499.46,664.60 500.00,664.57 500.54,664.53 501.07,664.83 501.61,664.47 502.14,664.64 502.68,664.63 503.21,664.84 503.75,665.11 504.29,665.05 504.82,665.33 505.36,665.53 505.89,665.27 506.43,665.63 506.96,665.44 507.50,665.26 508.04,665.50 508.57,665.44 509.11,665.56 509.64,665.62 510.18,665.52 510.71,665.88 511.25,666.18 511.79,666.20 512.32,666.48 512.86,666.46 513.39,666.50 513.93,666.45 514.46,666.24 515.00,666.25 515.54,666.10 516.07,666.20 516.61,666.24 517.14,666.16 517.68,666.39 518.21,666.44 518.75,666.72 519.29,666.58 519.82,666.47 520.36,666.32 520.89,666.36 521.43,666.32 521.96,666.32 522.50,666.61 523.04,666.69 523.57,666.52 524.11,666.55 524.64,666.47 525.18,666.39 525.71,666.34 526.25,666.34 526.79,666.44 527.32,666.59 527.86,666.55 528.39,666.37 528.93,666.36 529.46,666.32 530.00,666.27 530.54,666.08 531.07,666.09 531.61,665.83 532.14,666.12 532.68,666.28 533.21,666.41 533.75,666.24 534.29,666.29 534.82,666.51 535.36,666.44 535.89,666.25 536.43,666.24 536.96,665.88 537.50,666.11 538.04,666.22 538.57,666.02 539.11,666.19 539.64,666.40 540.18,666.50 540.71,666.58 541.25,666.80 541.79,666.76 542.32,666.92 542.86,666.80 543.39,666.61 543.93,666.51 544.46,666.31 545.00,666.39 545.53,666.25 546.06,666.32 546.59,666.36 547.12,666.61 547.65,666.85 548.18,666.65 548.71,666.55 549.24,666.47 549.77,666.32 550.30,666.60 550.83,666.73 551.36,666.61 551.89,666.30 552.42,666.17 552.95,666.17 553.48,666.42 554.02,666.16 554.55,666.39 555.08,666.11 555.61,666.16 556.14,665.95 556.67,665.90 557.20,665.53 557.73,665.72 558.26,665.77 558.79,665.64 559.32,665.35 559.85,665.45 560.38,665.53 560.91,665.37 561.44,665.55 561.97,665.60 562.50,665.47 563.03,665.41 563.56,665.08 564.09,665.33 564.62,665.58 565.15,665.59 565.68,665.42 566.21,665.30 566.74,665.33 567.27,665.26 567.80,665.39 568.33,665.31 568.86,665.53 569.39,665.75 569.92,665.65 570.45,665.52 570.98,665.06 571.52,665.16 572.05,665.30 572.58,665.20 573.11,665.45 573.64,665.37 574.17,665.21 574.70,665.40 575.23,665.50 575.76,665.17 576.29,665.11 576.82,664.96 577.35,665.01 577.88,665.12 578.41,665.10 578.94,665.18 579.47,665.37 580.00,665.32 580.53,665.14 581.06,665.02 581.59,665.23 582.12,665.55 582.65,665.50 583.18,665.55 583.71,665.39 584.24,665.30 584.77,665.47 585.30,665.38 585.83,665.41 586.36,665.42 586.89,665.61 587.42,665.61 587.95,665.56 588.48,665.47 589.02,665.37 589.55,665.53 590.08,665.85 590.61,665.50 591.14,665.64 591.67,665.43 592.20,665.31 592.73,665.26 593.26,665.19 593.79,665.15 594.32,665.07 594.85,665.40 595.38,665.14 595.91,665.06 596.44,664.96 596.97,665.04 597.50,664.87 598.04,664.91 598.58,664.96 599.12,665.30 599.65,665.36 600.19,665.29 600.73,665.26 601.27,665.51 601.81,665.40 602.35,665.20 602.88,665.05 603.42,664.96 603.96,665.08 604.50,664.87 605.04,664.76 605.58,664.75 606.12,664.59 606.65,664.72 607.19,664.64 607.73,664.72 608.27,664.79 608.81,665.00 609.35,665.21 609.88,664.96 610.42,664.67 610.96,664.44 611.50,664.52 612.03,664.64 612.56,664.66 613.09,664.67 613.62,664.94 614.15,665.06 614.68,665.06 615.21,665.12 615.74,664.83 616.27,665.03 616.80,665.35 617.33,665.31 617.86,665.18 618.39,665.35 618.92,665.21 619.45,665.19 619.98,665.26 620.52,665.21 621.05,665.30 621.58,664.95 622.11,664.58 622.64,664.79 623.17,664.94 623.70,665.02 624.23,664.99 624.76,665.04 625.29,665.14 625.82,664.98 626.35,665.07 626.88,664.99 627.41,665.39 627.94,665.44 628.47,665.48 629.00,665.63 629.55,665.83 630.09,666.01 630.64,665.92 631.19,665.99 631.73,666.19 632.28,666.26 632.83,666.32 633.38,666.27 633.92,666.38 634.47,666.67 635.02,666.51 635.56,666.37 636.11,666.30 636.66,666.19 637.20,666.59 637.75,667.03 638.29,667.05 638.83,667.00 639.37,667.16 639.90,667.24 640.44,666.75 640.98,666.70 641.52,667.06 642.06,666.89 642.60,666.70 643.13,666.54 643.67,666.76 644.21,666.61 644.75,666.62 645.29,666.75 645.83,666.69 646.37,666.60 646.90,666.35 647.44,666.10 647.98,666.27 648.52,666.01 649.06,666.18 649.60,666.34 650.13,666.52 650.67,666.38 651.21,666.15 651.75,666.10 652.29,666.26 652.83,666.26 653.37,666.24 653.90,666.12 654.44,666.19 654.98,665.77 655.52,665.54 656.06,665.79 656.60,665.81 657.13,665.86 657.67,665.47 658.21,665.32 658.75,665.25 659.28,665.34 659.81,665.64 660.34,665.62 660.87,665.72 661.40,665.68 661.93,665.74 662.46,665.90 662.99,666.05 663.52,666.28 664.05,666.11 664.58,666.32 665.11,666.45 665.64,666.37 666.17,666.66 666.70,666.58 667.23,666.58 667.77,666.74 668.30,667.03 668.83,666.98 669.36,667.26 669.89,667.33 670.42,667.20 670.95,667.36 671.48,667.39 672.01,667.30 672.54,667.33 673.07,667.59 673.60,667.68 674.13,667.66 674.66,667.83 675.19,667.62 675.72,667.80 676.25,668.06 676.79,667.82 677.32,667.62 677.86,667.49 678.39,667.49 678.93,667.40 679.46,667.44 680.00,667.32 680.54,667.42 681.07,667.55 681.61,667.64 682.14,667.55 682.68,667.70 683.21,667.43 683.75,667.36 684.29,667.39 684.82,667.63 685.36,667.56 685.89,667.67 686.43,667.92 686.96,668.18 687.50,668.36 688.04,668.10 688.57,668.05 689.11,668.05 689.64,668.08 690.18,668.07 690.71,667.96 691.25,667.90 691.79,667.61 692.32,667.71 692.86,667.73 693.39,667.59 693.93,667.87 694.46,667.81 695.00,667.64 695.54,667.61 696.07,667.54 696.61,667.50 697.14,667.33 697.68,667.30 698.21,667.16 698.75,667.20 699.29,667.07 699.82,666.76 700.36,666.45 700.89,666.44 701.43,666.47 701.96,666.08 702.50,666.08 703.04,665.95 703.57,665.88 704.11,665.63 704.64,665.35 705.18,665.19 705.71,665.00 706.25,664.88 706.79,664.86 707.32,664.81 707.86,665.05 708.39,664.77 708.93,664.60 709.46,664.53 710.00,664.54 710.54,664.39 711.07,664.20 711.61,664.33 712.14,664.46 712.68,664.60 713.21,664.73 713.75,664.50 714.29,664.72 714.82,664.72 715.36,665.09 715.89,664.99 716.43,664.63 716.96,664.66 717.50,664.74 718.04,664.84 718.57,664.90 719.11,664.84 719.64,664.60 720.18,664.65 720.71,664.68 721.25,664.65 721.79,664.74 722.32,664.76 722.86,664.51 723.39,664.49 723.93,664.48 724.46,664.57 725.00,664.96 725.54,665.01 726.07,665.16 726.61,664.85 727.14,665.14 727.68,665.10 728.21,665.24 728.75,665.10 729.29,665.16 729.82,665.35 730.36,665.38 730.89,665.44 731.43,665.34 731.96,665.27 732.50,665.37 733.04,665.33 733.58,665.34 734.12,665.22 734.66,665.15 735.20,665.28 735.74,665.48 736.28,665.35 736.82,665.20 737.36,665.19 737.91,665.31 738.45,665.30 738.99,665.41 739.53,665.30 740.07,665.07 740.61,664.73 741.15,664.88 741.69,664.90 742.23,664.77 742.77,664.81 743.31,664.60 743.85,664.77 744.39,664.91 744.93,665.04 745.47,664.88 746.01,665.05 746.55,665.08 747.09,665.23 747.64,664.82 748.18,664.89 748.72,665.01 749.26,664.84 749.80,664.90 750.34,664.81 750.88,664.94 751.42,664.77 751.96,664.67 752.50,664.39 753.03,664.66 753.56,664.42 754.10,664.17 754.63,663.99 755.16,663.98 755.69,663.97 756.22,664.02 756.76,664.23 757.29,664.31 757.82,663.97 758.35,663.95 758.88,663.87 759.41,663.95 759.95,663.90 760.48,664.05 761.01,663.98 761.54,664.21 762.07,663.92 762.61,664.02 763.14,664.05 763.67,663.81 764.20,663.50 764.73,663.35 765.27,663.38 765.80,663.61 766.33,663.29 766.86,663.21 767.39,662.98 767.93,663.11 768.46,663.11 768.99,663.08 769.52,663.17 770.05,663.17 770.59,663.34 771.12,663.20 771.65,663.03 772.18,662.98 772.71,662.92 773.24,663.08 773.78,662.93 774.31,662.79 774.84,662.63 775.37,662.48 775.90,662.16 776.44,662.22 776.97,662.33 777.50,662.35 778.04,662.30 778.57,662.54 779.11,662.71 779.64,662.79 780.18,662.92 780.71,662.92 781.25,663.00 781.79,663.11 782.32,662.92 782.86,662.88 783.39,662.82 783.93,662.96 784.46,662.60 785.00,662.78 785.54,662.88 786.07,662.95 786.61,663.10 787.14,662.93 787.68,663.08 788.21,663.05 788.75,663.05 789.29,663.39 789.82,663.39 790.36,663.63 790.89,663.67 791.43,663.66 791.96,663.64 792.50,663.46 793.04,663.62 793.59,663.86 794.13,664.29 794.67,664.57 795.22,664.84 795.76,664.81 796.30,664.84 796.85,665.07 797.39,665.32 797.93,665.30 798.48,665.64 799.02,665.69 799.57,665.90 800.11,665.98 800.65,666.28 801.20,666.57 801.74,666.86 802.28,666.83 802.83,666.99 803.37,667.50 803.91,667.58 804.46,667.76 805.00,667.87 805.53,667.72 806.06,667.95 806.60,668.12 807.13,667.89 807.66,667.89 808.19,668.11 808.72,668.07 809.26,667.97 809.79,668.03 810.32,668.05 810.85,667.74 811.38,667.54 811.91,667.76 812.45,667.60 812.98,667.54 813.51,667.39 814.04,667.69 814.57,667.42 815.11,667.42 815.64,667.33 816.17,667.27 816.70,667.06 817.23,666.96 817.77,666.97 818.30,667.05 818.83,666.77 819.36,666.85 819.89,666.76 820.43,666.82 820.96,666.80 821.49,666.84 822.02,666.84 822.55,666.96 823.09,666.99 823.62,666.73 824.15,666.40 824.68,666.27 825.21,666.45 825.74,666.28 826.28,666.24 826.81,666.66 827.34,666.66 827.87,666.69 828.40,666.79 828.94,666.92 829.47,666.85 830.00,666.88 830.54,666.52 831.08,666.59 831.62,666.68 832.16,666.37 832.70,666.53 833.24,666.82 833.78,666.33 834.32,666.29 834.86,666.51 835.41,666.57 835.95,666.38 836.49,666.23 837.03,666.14 837.57,666.22 838.11,666.03 838.65,665.76 839.19,665.79 839.73,665.66 840.27,665.94 840.81,665.72 841.35,665.74 841.89,665.67 842.43,665.40 842.97,665.32 843.51,665.01 844.05,665.12 844.59,664.99 845.14,664.82 845.68,664.62 846.22,664.93 846.76,665.03 847.30,664.86 847.84,664.85 848.38,664.95 848.92,665.03 849.46,664.99 850.00,664.60 850.53,664.93 851.06,664.90 851.60,665.12 852.13,664.86 852.66,664.99 853.19,665.18 853.72,665.30 854.26,665.02 854.79,664.93 855.32,665.16 855.85,664.95 856.38,665.03 856.91,664.95 857.45,664.66 857.98,664.82 858.51,664.97 859.04,665.02 859.57,665.00 860.11,665.10 860.64,664.69 861.17,664.67 861.70,664.93 862.23,664.95 862.77,665.06 863.30,664.93 863.83,664.91 864.36,664.65 864.89,664.71 865.43,664.71 865.96,664.60 866.49,664.57 867.02,664.56 867.55,664.56 868.09,664.66 868.62,664.78 869.15,664.35 869.68,664.39 870.21,664.56 870.74,664.33 871.28,664.29 871.81,664.68 872.34,664.50 872.87,664.62 873.40,664.60 873.94,664.30 874.47,664.24 875.00,663.92 875.53,663.92 876.07,664.13 876.60,664.26 877.13,664.32 877.66,664.22 878.20,664.34 878.73,664.54 879.26,664.63 879.80,664.74 880.33,664.74 880.86,664.74 881.39,664.53 881.93,664.74 882.46,664.50 882.99,664.33 883.52,664.21 884.06,664.12 884.59,664.37 885.12,664.34 885.66,664.30 886.19,664.26 886.72,664.28 887.25,664.51 887.79,664.74 888.32,664.60 888.85,664.85 889.39,664.87 889.92,664.84 890.45,664.98 890.98,664.91 891.52,664.88 892.05,664.82 892.58,664.57 893.11,664.34 893.65,664.19 894.18,664.09 894.71,664.05 895.25,664.02 895.78,664.27 896.31,664.30 896.84,664.45 897.38,664.51 897.91,664.36 898.44,664.33 898.98,664.10 899.51,663.88 900.04,664.04 900.57,664.10 901.11,664.18 901.64,664.39 902.17,664.18 902.70,664.20 903.24,663.88 903.77,663.84 904.30,664.04 904.84,663.86 905.37,663.75 905.90,663.82 906.43,664.21 906.97,664.38 907.50,664.37 908.04,664.62 908.59,664.77 909.13,664.82 909.67,664.87 910.22,665.10 910.76,665.21 911.30,665.48 911.85,665.50 912.39,665.77 912.93,665.81 913.48,666.13 914.02,666.39 914.57,666.35 915.11,666.82 915.65,666.93 916.20,666.87 916.74,666.74 917.28,666.88 917.83,667.02 918.37,667.02 918.91,666.98 919.46,667.07 920.00,667.08 920.53,667.20 921.06,667.30 921.59,667.62 922.12,667.43 922.65,668.05 923.18,668.18 923.71,668.39 924.24,668.38 924.77,668.80 925.30,668.97 925.83,669.11 926.36,669.16 926.89,669.48 927.42,669.75 927.95,669.82 928.48,670.28 929.02,670.27 929.55,670.64 930.08,670.81 930.61,670.72 931.14,670.86 931.67,671.14 932.20,671.24 932.73,671.43 933.26,671.59 933.79,671.83 934.32,671.89 934.85,672.37 935.38,672.55 935.91,672.92 936.44,672.97 936.97,673.12 937.50,673.07 938.04,673.04 938.58,673.24 939.12,673.21 939.66,673.02 940.20,672.88 940.74,672.94 941.28,672.86 941.82,673.16 942.36,673.10 942.91,673.02 943.45,673.06 943.99,673.24 944.53,672.87 945.07,672.69 945.61,672.53 946.15,672.19 946.69,672.20 947.23,672.21 947.77,672.37 948.31,672.46 948.85,672.54 949.39,672.59 949.93,672.46 950.47,672.89 951.01,673.01 951.55,672.82 952.09,672.55 952.64,672.56 953.18,672.64 953.72,672.62 954.26,672.65 954.80,672.70 955.34,672.65 955.88,672.38 956.42,672.22 956.96,671.87 957.50,672.02 958.03,671.81 958.56,671.73 959.09,671.96 959.62,671.65 960.15,671.51 960.68,671.23 961.21,670.82 961.74,670.91 962.27,670.79 962.80,670.68 963.33,670.70 963.86,670.54 964.39,670.53 964.92,670.60 965.45,670.31 965.98,670.24 966.52,670.11 967.05,670.13 967.58,670.36 968.11,669.96 968.64,670.03 969.17,669.83 969.70,669.73 970.23,669.58 970.76,669.36 971.29,668.97 971.82,668.83 972.35,668.54 972.88,668.67 973.41,668.59 973.94,668.34 974.47,668.14 975.00,668.20 975.54,667.88 976.08,667.88 976.62,667.86 977.16,667.66 977.70,667.81 978.24,667.69 978.78,667.82 979.32,667.77 979.86,667.60 980.41,667.53 980.95,667.64 981.49,667.42 982.03,667.24 982.57,667.20 983.11,667.26 983.65,667.32 984.19,667.10 984.73,666.88 985.27,666.86 985.81,666.81 986.35,666.85 986.89,666.58 987.43,666.51 987.97,666.35 988.51,666.64 989.05,666.29 989.59,666.17 990.14,666.13 990.68,665.88 991.22,665.88 991.76,665.83 992.30,665.64 992.84,665.65 993.38,665.95 993.92,665.99 994.46,666.22 995.00,666.39 995.53,666.42 996.06,666.37 996.60,666.04 997.13,665.79 997.66,665.95 998.19,666.07 998.72,666.18 999.26,666.12 999.79,666.17 1000.32,666.08 1000.85,666.33 1001.38,666.42 1001.91,666.16 1002.45,666.18 1002.98,666.49 1003.51,666.39 1004.04,666.30 1004.57,666.26 1005.11,666.29 1005.64,666.43 1006.17,666.51 1006.70,666.63 1007.23,666.62 1007.77,666.81 1008.30,667.10 1008.83,666.98 1009.36,667.07 1009.89,667.16 1010.43,667.21 1010.96,667.23 1011.49,667.33 1012.02,667.31 1012.55,667.23 1013.09,667.15 1013.62,667.33 1014.15,667.28 1014.68,667.04 1015.21,667.06 1015.74,667.07 1016.28,667.31 1016.81,667.54 1017.34,667.40 1017.87,667.66 1018.40,667.74 1018.94,668.00 1019.47,667.90 1020.00,668.01 1020.56,668.12 1021.11,668.35 1021.67,668.10 1022.22,668.09 1022.78,668.12 1023.33,668.10 1023.89,667.97 1024.44,667.98 1025.00,668.04 1025.55,668.19 1026.09,667.97 1026.64,667.92 1027.19,667.60 1027.73,667.43 1028.28,667.21 1028.83,667.01 1029.38,666.58 1029.92,666.41 1030.47,666.67 1031.02,666.43 1031.56,665.99 1032.11,666.18 1032.66,666.01 1033.20,665.82 1033.75,665.33 1034.29,665.27 1034.82,665.23 1035.36,665.21 1035.89,665.06 1036.43,665.19 1036.96,664.99 1037.50,665.22 1038.04,665.22 1038.57,665.15 1039.11,664.92 1039.64,665.03 1040.18,665.13 1040.71,664.91 1041.25,665.24 1041.79,665.20 1042.32,664.96 1042.86,665.20 1043.39,665.04 1043.93,664.93 1044.46,664.76 1045.00,664.69 1045.54,665.09 1046.07,665.36 1046.61,665.86 1047.14,666.12 1047.68,666.55 1048.21,666.62 1048.75,667.02 1049.29,667.11 1049.84,667.30 1050.38,667.30 1050.92,667.37 1051.47,667.46 1052.01,667.34 1052.55,667.47 1053.10,667.54 1053.64,667.45 1054.18,667.27 1054.73,667.52 1055.27,667.70 1055.82,667.70 1056.36,667.84 1056.90,668.02 1057.45,667.91 1057.99,667.93 1058.53,667.94 1059.08,667.94 1059.62,667.84 1060.16,667.70 1060.71,667.78 1061.25,667.75 1061.80,667.89 1062.34,667.80 1062.89,667.66 1063.44,667.31 1063.98,667.19 1064.53,667.14 1065.08,667.02 1065.62,666.81 1066.17,666.27 1066.72,666.13 1067.27,666.17 1067.81,666.42 1068.36,666.18 1068.91,666.23 1069.45,665.97 1070.00,666.09 1070.55,665.81 1071.09,665.56 1071.64,665.36 1072.19,664.99 1072.73,664.64 1073.28,664.56 1073.83,664.07 1074.38,663.69 1074.92,663.60 1075.47,663.47 1076.02,663.07 1076.56,662.71 1077.11,662.49 1077.66,662.55 1078.20,662.49 1078.75,662.11 1079.30,662.02 1079.84,662.02 1080.39,661.77 1080.94,661.88 1081.48,661.88 1082.03,662.11 1082.58,662.02 1083.12,662.13 1083.67,662.07 1084.22,662.04 1084.77,662.40 1085.31,662.27 1085.86,662.30 1086.41,662.41 1086.95,662.75 1087.50,662.78 1088.06,662.52 1088.61,662.40 1089.17,662.50 1089.72,662.38 1090.28,662.27 1090.83,662.41 1091.39,662.00 1091.94,661.97 1092.50,661.59 1093.06,661.59 1093.61,661.46 1094.17,661.34 1094.72,661.16 1095.28,660.98 1095.83,660.30 1096.39,659.99 1096.94,660.23 1097.50,660.09 1098.06,659.85 1098.61,659.72 1099.17,659.64 1099.72,659.42 1100.28,659.33 1100.83,659.16 1101.39,658.79 1101.94,658.57 1102.50,658.48 1103.06,658.07 1103.61,657.84 1104.17,657.49 1104.72,657.24 1105.28,656.79 1105.83,656.64 1106.39,656.37 1106.94,656.38 1107.50,656.13 1108.04,656.07 1108.57,655.81 1109.11,655.23 1109.64,655.12 1110.18,654.65 1110.71,654.24 1111.25,653.56 1111.79,653.12 1112.32,652.59 1112.86,651.98 1113.39,651.44 1113.93,651.31 1114.46,650.83 1115.00,650.45 1115.55,650.11 1116.09,649.84 1116.64,649.57 1117.19,649.37 1117.73,649.18 1118.28,649.13 1118.83,648.89 1119.38,648.64 1119.92,648.28 1120.47,648.18 1121.02,648.02 1121.56,647.74 1122.11,647.22 1122.66,647.02 1123.20,646.50 1123.75,646.60 1124.32,646.53 1124.89,646.65 1125.45,646.48 1126.02,646.50 1126.59,646.63 1127.16,646.58 1127.73,646.22 1128.30,645.82 1128.86,645.62 1129.43,645.55 1130.00,645.26 1130.54,644.22 1131.07,643.44 1131.61,642.74 1132.14,641.75 1132.68,641.07 1133.21,640.52 1133.75,639.63 1134.32,639.73 1134.89,639.78 1135.45,639.88 1136.02,639.97 1136.59,639.84 1137.16,639.98 1137.73,640.34 1138.30,640.36 1138.86,640.10 1139.43,640.06 1140.00,640.30 1140.60,641.04 1141.20,641.78 1141.80,642.52 1142.40,643.26 1143.00,644.00 1143.60,643.90 1144.20,643.80 1144.80,643.70 1145.40,643.60 1146.00,643.50 1146.60,644.40 1147.20,645.30 1147.80,646.20 1148.40,647.10 1149.00,648.00 1149.60,649.20 1150.20,650.40 1150.80,651.60 1151.40,652.80 1152.00,654.00 1152.60,653.10 1153.20,652.20 1153.80,651.30 1154.40,650.40 1155.00,649.50 1155.67,650.67 1156.33,651.83 1157.00,653.00 1157.50,662.00 1158.17,665.00 1158.83,668.00 1159.50,671.00 1160.00,681.00 1161.00,672.00 1162.00,681.00 1163.00,671.00 1163.50,681.00 1164.50,679.00 1165.00,690.00 1166.00,680.00 1166.00,692.00 1166.50,699.00" stroke="#1a1ac0" stroke-width="2.5"/>
<path d="M101.50,731.50 101.50,714.00 102.10,714.67 102.70,715.33 103.30,716.00 103.50,686.50 104.05,685.26 104.60,684.02 105.15,682.78 105.70,681.54 106.25,680.30 106.79,679.74 107.32,679.19 107.86,678.63 108.39,678.07 108.93,677.51 109.46,676.96 110.00,676.40 110.56,675.98 111.11,675.56 111.67,675.13 112.22,674.71 112.78,674.29 113.33,673.87 113.89,673.44 114.44,673.02 115.00,672.60 115.57,672.26 116.14,671.93 116.70,671.59 117.27,671.25 117.84,670.92 118.41,670.58 118.98,670.25 119.55,669.91 120.11,669.57 120.68,669.24 121.25,668.90 121.81,668.69 122.36,668.48 122.92,668.27 123.47,668.06 124.03,667.84 124.58,667.63 125.14,667.42 125.69,667.21 126.25,667.00 126.81,666.79 127.36,666.58 127.92,666.37 128.47,666.16 129.03,665.94 129.58,665.73 130.14,664.81 130.69,664.67 131.25,664.48 131.79,664.75 132.34,664.35 132.88,664.51 133.42,664.32 133.97,664.25 134.51,664.08 135.05,664.14 135.60,663.87 136.14,663.81 136.68,663.81 137.23,664.04 137.77,663.51 138.32,663.70 138.86,663.75 139.40,663.53 139.95,663.46 140.49,663.26 141.03,663.42 141.58,663.30 142.12,663.11 142.66,662.94 143.21,662.77 143.75,662.63 144.29,662.37 144.84,662.62 145.38,662.16 145.92,661.47 146.47,661.46 147.01,661.43 147.55,661.46 148.10,661.38 148.64,661.31 149.18,661.31 149.73,661.39 150.27,661.21 150.82,661.06 151.36,661.29 151.90,661.23 152.45,660.92 152.99,661.18 153.53,661.13 154.08,660.84 154.62,660.49 155.16,660.42 155.71,660.16 156.25,659.88 156.79,659.57 157.34,659.42 157.88,659.53 158.42,659.35 158.97,659.02 159.51,659.06 160.05,658.97 160.60,659.01 161.14,659.07 161.68,658.88 162.23,658.70 162.77,658.54 163.32,658.21 163.86,658.21 164.40,658.30 164.95,658.16 165.49,657.95 166.03,657.75 166.58,657.47 167.12,657.22 167.66,657.05 168.21,656.81 168.75,656.66 169.29,656.42 169.82,656.53 170.36,656.56 170.89,656.39 171.43,656.05 171.96,656.14 172.50,656.39 173.04,656.28 173.57,656.23 174.11,656.17 174.64,656.32 175.18,656.17 175.71,656.36 176.25,656.29 176.79,656.44 177.32,656.40 177.86,656.33 178.39,656.05 178.93,655.94 179.46,655.92 180.00,656.04 180.54,655.99 181.07,655.78 181.61,655.76 182.14,655.83 182.68,655.68 183.21,655.48 183.75,655.31 184.29,655.34 184.82,655.31 185.36,655.02 185.89,654.97 186.43,654.77 186.96,654.54 187.50,654.66 188.04,654.67 188.57,654.41 189.11,654.30 189.64,654.26 190.18,654.02 190.71,653.89 191.25,653.89 191.79,653.46 192.32,653.44 192.86,653.47 193.39,653.44 193.93,653.09 194.46,653.05 195.00,652.80 195.54,652.85 196.08,652.88 196.62,652.83 197.16,652.61 197.70,652.44 198.24,652.53 198.78,652.29 199.32,652.32 199.86,652.33 200.41,652.19 200.95,652.50 201.49,652.37 202.03,652.58 202.57,652.06 203.11,651.58 203.65,651.69 204.19,651.72 204.73,651.57 205.27,651.48 205.81,651.08 206.35,650.94 206.89,650.75 207.43,650.71 207.97,650.85 208.51,650.81 209.05,650.82 209.59,650.63 210.14,650.51 210.68,650.48 211.22,650.38 211.76,650.54 212.30,650.31 212.84,650.55 213.38,650.27 213.92,650.36 214.46,650.12 215.00,650.30 215.54,650.20 216.08,650.13 216.62,650.13 217.16,649.88 217.70,649.59 218.24,649.18 218.78,649.35 219.32,649.17 219.86,649.02 220.41,648.98 220.95,649.26 221.49,648.87 222.03,648.85 222.57,648.72 223.11,648.75 223.65,648.38 224.19,648.29 224.73,648.40 225.27,648.60 225.81,648.76 226.35,648.47 226.89,648.37 227.43,648.25 227.97,647.92 228.51,647.62 229.05,647.73 229.59,647.71 230.14,647.62 230.68,647.76 231.22,647.50 231.76,647.51 232.30,647.43 232.84,647.34 233.38,647.33 233.92,647.27 234.46,647.21 235.00,647.15 235.56,647.38 236.11,647.18 236.67,647.23 237.22,647.18 237.78,646.98 238.33,646.99 238.89,646.71 239.44,646.80 240.00,646.54 240.56,646.36 241.11,646.33 241.67,646.39 242.22,646.43 242.78,646.45 243.33,646.28 243.89,646.00 244.44,646.00 245.00,645.95 245.54,645.71 246.07,645.81 246.61,645.76 247.14,645.52 247.68,645.54 248.21,645.26 248.75,645.09 249.29,645.15 249.82,644.87 250.36,644.89 250.89,644.67 251.43,644.82 251.96,644.69 252.50,644.73 253.04,644.47 253.57,644.44 254.11,644.62 254.64,644.68 255.18,644.34 255.71,644.50 256.25,644.63 256.79,644.51 257.32,644.70 257.86,644.44 258.39,644.38 258.93,644.51 259.46,644.65 260.00,644.75 260.54,644.45 261.07,644.08 261.61,644.12 262.14,643.85 262.68,643.83 263.21,643.62 263.75,643.83 264.29,643.95 264.82,644.00 265.36,643.95 265.89,643.91 266.43,643.81 266.96,643.84 267.50,643.83 268.04,643.85 268.57,643.71 269.11,643.98 269.64,643.93 270.18,644.06 270.71,644.16 271.25,643.86 271.79,643.48 272.32,643.64 272.86,643.50 273.39,643.45 273.93,643.35 274.46,643.32 275.00,643.07 275.55,643.09 276.11,643.05 276.66,643.09 277.21,642.75 277.76,642.99 278.32,643.11 278.87,642.87 279.42,642.84 279.97,642.94 280.53,643.13 281.08,643.18 281.63,643.46 282.18,643.47 282.74,643.31 283.29,643.23 283.84,643.40 284.39,643.33 284.95,643.50 285.50,643.68 286.05,643.63 286.59,643.63 287.14,643.42 287.68,643.25 288.23,642.99 288.77,642.75 289.32,642.37 289.86,642.20 290.41,641.95 290.95,641.67 291.50,641.67 292.05,641.70 292.59,641.58 293.14,641.74 293.68,641.78 294.23,641.81 294.77,641.54 295.32,641.15 295.86,641.14 296.41,641.07 296.95,641.07 297.50,640.99 298.05,641.14 298.59,641.00 299.14,641.04 299.68,640.81 300.23,640.38 300.77,640.33 301.32,640.60 301.86,640.30 302.41,640.49 302.95,640.36 303.50,640.29 304.05,640.31 304.59,640.34 305.14,640.17 305.68,640.21 306.23,640.28 306.77,640.41 307.32,640.24 307.86,640.48 308.41,640.74 308.95,641.03 309.50,640.65 310.05,640.42 310.61,639.86 311.16,639.74 311.71,639.64 312.26,639.24 312.82,638.80 313.37,638.70 313.92,638.66 314.47,638.37 315.03,638.17 315.58,637.61 316.13,637.41 316.68,637.36 317.24,637.28 317.79,637.42 318.34,637.06 318.89,636.55 319.45,636.53 320.00,636.32 320.54,636.35 321.07,636.43 321.61,636.46 322.14,636.61 322.68,636.70 323.21,636.27 323.75,636.16 324.29,636.39 324.82,636.17 325.36,636.20 325.89,636.04 326.43,635.83 326.96,635.97 327.50,635.98 328.04,635.77 328.57,635.76 329.11,635.38 329.64,635.14 330.18,635.19 330.71,635.08 331.25,634.79 331.79,634.78 332.32,634.74 332.86,634.84 333.39,634.86 333.93,634.66 334.46,634.44 335.00,634.30 335.54,634.21 336.07,634.40 336.61,634.57 337.14,634.67 337.68,634.58 338.21,634.40 338.75,634.43 339.29,634.24 339.82,634.17 340.36,633.79 340.89,633.68 341.43,633.88 341.96,633.64 342.50,633.35 343.04,633.32 343.57,633.59 344.11,633.78 344.64,633.62 345.18,633.47 345.71,633.39 346.25,633.19 346.79,633.17 347.32,633.09 347.86,632.83 348.39,632.75 348.93,632.72 349.46,632.60 350.00,632.45 350.54,632.62 351.07,632.92 351.61,632.80 352.14,632.67 352.68,632.70 353.21,632.59 353.75,632.40 354.29,632.59 354.82,632.34 355.36,632.17 355.89,632.03 356.43,631.86 356.96,631.82 357.50,631.91 358.04,632.11 358.57,632.14 359.11,632.06 359.64,631.76 360.18,631.70 360.71,631.49 361.25,631.45 361.79,631.58 362.32,631.55 362.86,631.45 363.39,631.26 363.93,631.21 364.46,631.19 365.00,630.98 365.54,630.88 366.07,631.02 366.61,630.70 367.14,630.63 367.68,630.45 368.21,630.73 368.75,630.80 369.29,630.83 369.82,630.84 370.36,630.81 370.89,630.78 371.43,630.44 371.96,630.45 372.50,630.50 373.04,630.20 373.57,630.32 374.11,630.38 374.64,630.06 375.18,629.96 375.71,629.89 376.25,629.79 376.79,629.85 377.32,629.61 377.86,629.58 378.39,629.62 378.93,629.73 379.46,629.69 380.00,629.61 380.54,629.70 381.07,629.32 381.61,629.48 382.14,629.40 382.68,629.17 383.21,629.11 383.75,628.82 384.29,628.54 384.82,628.58 385.36,628.53 385.89,628.73 386.43,628.62 386.96,628.46 387.50,628.37 388.04,628.74 388.57,628.75 389.11,628.65 389.64,628.50 390.18,628.35 390.71,628.37 391.25,628.47 391.79,628.67 392.32,628.83 392.86,628.82 393.39,628.64 393.93,628.45 394.46,628.05 395.00,627.92 395.54,628.05 396.07,628.01 396.61,628.10 397.14,627.88 397.68,628.06 398.21,628.10 398.75,628.09 399.29,628.13 399.82,627.72 400.36,627.65 400.89,627.53 401.43,627.87 401.96,627.82 402.50,627.71 403.04,627.84 403.57,627.63 404.11,627.85 404.64,627.68 405.18,627.63 405.71,627.45 406.25,627.57 406.79,627.18 407.32,627.31 407.86,627.17 408.39,627.18 408.93,626.99 409.46,627.05 410.00,627.09 410.54,627.17 411.07,627.18 411.61,627.23 412.14,627.33 412.68,627.17 413.21,626.90 413.75,626.65 414.29,626.75 414.82,626.66 415.36,626.80 415.89,626.75 416.43,626.52 416.96,626.64 417.50,626.90 418.04,626.76 418.57,626.51 419.11,626.30 419.64,626.41 420.18,626.25 420.71,626.13 421.25,626.21 421.79,626.15 422.32,626.11 422.86,625.96 423.39,625.81 423.93,625.81 424.46,625.80 425.00,625.85 425.54,625.75 426.07,625.80 426.61,625.87 427.14,625.85 427.68,625.92 428.21,626.05 428.75,626.02 429.29,625.97 429.82,625.76 430.36,625.79 430.89,625.75 431.43,625.68 431.96,625.53 432.50,625.63 433.04,626.05 433.57,626.04 434.11,625.98 434.64,625.98 435.18,625.81 435.71,625.78 436.25,625.63 436.79,625.50 437.32,625.54 437.86,625.57 438.39,625.53 438.93,625.39 439.46,625.45 440.00,625.27 440.54,625.42 441.07,625.37 441.61,625.37 442.14,625.51 442.68,625.58 443.21,625.33 443.75,625.30 444.29,625.37 444.82,625.19 445.36,624.82 445.89,624.89 446.43,624.95 446.96,625.08 447.50,625.13 448.04,625.18 448.57,625.23 449.11,625.47 449.64,625.51 450.18,625.56 450.71,625.44 451.25,625.59 451.79,625.49 452.32,625.57 452.86,625.16 453.39,625.20 453.93,625.18 454.46,625.10 455.00,625.32 455.54,625.30 456.07,625.18 456.61,625.00 457.14,625.24 457.68,625.24 458.21,625.21 458.75,624.95 459.29,625.05 459.82,625.01 460.36,624.82 460.89,624.68 461.43,624.30 461.96,624.35 462.50,624.09 463.04,624.18 463.57,624.04 464.11,623.87 464.64,623.89 465.18,623.86 465.71,623.61 466.25,623.56 466.79,623.62 467.32,623.52 467.86,623.24 468.39,623.18 468.93,623.00 469.46,622.90 470.00,622.91 470.54,622.87 471.07,622.81 471.61,622.50 472.14,622.56 472.68,622.51 473.21,622.42 473.75,622.42 474.29,622.70 474.82,622.40 475.36,622.07 475.89,622.18 476.43,622.00 476.96,622.18 477.50,621.94 478.04,621.81 478.57,621.91 479.11,621.99 479.64,621.96 480.18,621.93 480.71,621.79 481.25,621.62 481.79,621.49 482.32,621.62 482.86,621.62 483.39,621.49 483.93,621.42 484.46,621.43 485.00,621.49 485.54,621.31 486.07,621.15 486.61,621.07 487.14,621.37 487.68,621.21 488.21,621.24 488.75,620.79 489.29,620.79 489.82,620.40 490.36,620.12 490.89,619.95 491.43,619.88 491.96,619.85 492.50,619.85 493.04,619.81 493.57,619.66 494.11,620.01 494.64,619.93 495.18,619.90 495.71,620.08 496.25,620.04 496.79,619.93 497.32,619.79 497.86,619.91 498.39,619.51 498.93,619.19 499.46,619.09 500.00,618.63 500.56,618.40 501.12,618.50 501.69,618.30 502.25,618.22 502.81,618.22 503.38,617.90 503.94,617.84 504.50,617.62 505.06,617.35 505.62,617.23 506.19,617.15 506.75,617.01 507.31,616.82 507.88,616.92 508.44,617.00 509.00,616.96 509.54,616.92 510.08,616.72 510.62,616.60 511.16,616.46 511.70,616.55 512.24,616.74 512.78,616.90 513.32,616.88 513.86,616.80 514.40,616.83 514.94,616.85 515.48,616.93 516.02,617.15 516.56,616.98 517.10,617.29 517.64,616.87 518.18,616.57 518.72,616.36 519.26,616.26 519.80,616.32 520.34,616.73 520.88,616.63 521.42,616.84 521.96,616.77 522.50,616.80 523.04,616.62 523.57,617.01 524.11,616.96 524.64,616.81 525.18,617.17 525.71,617.11 526.25,617.11 526.79,617.01 527.32,616.81 527.86,616.55 528.39,616.54 528.93,616.81 529.46,616.85 530.00,616.78 530.54,616.92 531.07,616.71 531.61,616.91 532.14,616.85 532.68,616.66 533.21,616.75 533.75,616.80 534.29,616.69 534.82,616.70 535.36,616.82 535.89,616.99 536.43,616.77 536.96,616.29 537.50,616.65 538.04,616.52 538.57,616.37 539.11,616.38 539.64,616.23 540.18,616.34 540.71,616.04 541.25,615.96 541.79,615.70 542.32,615.94 542.86,615.83 543.39,615.95 543.93,616.09 544.46,615.77 545.00,615.65 545.53,615.74 546.06,615.70 546.59,615.63 547.12,615.73 547.65,615.82 548.18,615.65 548.71,615.58 549.24,615.64 549.77,615.62 550.30,615.59 550.83,615.35 551.36,615.62 551.89,615.51 552.42,615.50 552.95,615.44 553.48,615.41 554.02,615.39 554.55,615.20 555.08,615.25 555.61,615.41 556.14,615.42 556.67,615.47 557.20,615.47 557.73,615.40 558.26,615.62 558.79,615.40 559.32,615.38 559.85,615.47 560.38,615.42 560.91,615.15 561.44,614.92 561.97,615.16 562.50,614.94 563.03,614.88 563.56,614.91 564.09,614.86 564.62,614.49 565.15,614.16 565.68,614.17 566.21,614.06 566.74,614.04 567.27,614.08 567.80,614.11 568.33,613.88 568.86,613.62 569.39,613.83 569.92,613.74 570.45,613.56 570.98,613.27 571.52,613.44 572.05,613.27 572.58,613.16 573.11,613.33 573.64,613.41 574.17,613.51 574.70,613.29 575.23,612.83 575.76,612.75 576.29,612.79 576.82,612.75 577.35,612.96 577.88,613.04 578.41,612.87 578.94,612.98 579.47,612.95 580.00,612.86 580.53,613.02 581.06,612.69 581.59,612.85 582.12,612.97 582.65,612.55 583.18,612.50 583.71,612.44 584.24,612.23 584.77,612.13 585.30,611.99 585.83,612.01 586.36,611.92 586.89,611.57 587.42,611.81 587.95,611.95 588.48,611.78 589.02,611.90 589.55,612.18 590.08,611.81 590.61,611.68 591.14,611.55 591.67,611.60 592.20,611.49 592.73,611.21 593.26,611.40 593.79,611.28 594.32,611.35 594.85,611.65 595.38,611.39 595.91,611.22 596.44,611.28 596.97,611.16 597.50,611.14 598.04,611.00 598.58,611.33 599.12,611.22 599.65,611.07 600.19,610.90 600.73,610.77 601.27,610.32 601.81,610.15 602.35,610.16 602.88,609.83 603.42,609.75 603.96,609.63 604.50,609.45 605.04,609.78 605.58,609.75 606.12,609.64 606.65,609.35 607.19,609.23 607.73,609.05 608.27,608.92 608.81,608.84 609.35,609.14 609.88,609.18 610.42,609.26 610.96,609.25 611.50,609.46 612.03,609.13 612.56,608.74 613.09,608.66 613.62,608.59 614.15,608.50 614.68,608.31 615.21,608.36 615.74,608.57 616.27,608.49 616.80,608.35 617.33,608.46 617.86,608.31 618.39,608.16 618.92,608.15 619.45,607.70 619.98,608.02 620.52,607.94 621.05,607.98 621.58,607.98 622.11,607.98 622.64,607.70 623.17,607.97 623.70,607.99 624.23,607.96 624.76,608.40 625.29,608.03 625.82,608.05 626.35,607.93 626.88,607.59 627.41,607.87 627.94,607.52 628.47,607.51 629.00,607.46 629.53,607.44 630.06,607.24 630.59,607.44 631.12,607.42 631.65,607.14 632.18,606.92 632.71,606.97 633.24,606.77 633.77,606.86 634.30,606.91 634.83,606.79 635.36,606.47 635.89,606.30 636.42,606.42 636.95,606.37 637.48,606.72 638.02,606.62 638.55,606.67 639.08,606.75 639.61,606.72 640.14,606.72 640.67,606.83 641.20,606.73 641.73,606.71 642.26,606.58 642.79,606.85 643.32,606.77 643.85,606.81 644.38,606.20 644.91,606.10 645.44,605.90 645.97,605.93 646.50,605.86 647.03,605.74 647.57,605.76 648.10,605.96 648.63,606.17 649.16,606.08 649.70,606.27 650.23,606.15 650.76,606.25 651.29,606.09 651.83,606.28 652.36,606.64 652.89,606.51 653.42,606.65 653.96,606.33 654.49,606.20 655.02,606.63 655.55,606.54 656.09,606.56 656.62,606.22 657.15,606.21 657.68,606.07 658.22,606.28 658.75,606.17 659.30,606.45 659.84,606.06 660.39,605.94 660.94,605.43 661.48,605.25 662.03,605.35 662.58,605.18 663.12,604.83 663.67,604.80 664.22,604.83 664.77,604.75 665.31,604.75 665.86,604.33 666.41,604.49 666.95,604.41 667.50,603.86 668.04,604.08 668.58,603.85 669.12,603.81 669.65,603.35 670.19,603.16 670.73,602.80 671.27,602.92 671.81,602.82 672.35,602.61 672.88,602.51 673.42,602.66 673.96,602.45 674.50,602.48 675.04,602.20 675.58,601.87 676.12,601.77 676.65,601.70 677.19,601.71 677.73,601.82 678.27,601.68 678.81,601.55 679.35,601.61 679.88,601.58 680.42,601.47 680.96,601.40 681.50,600.93 682.05,600.70 682.59,600.30 683.14,600.14 683.69,600.17 684.23,599.75 684.78,599.79 685.33,599.55 685.88,599.37 686.42,599.15 686.97,599.12 687.52,598.84 688.06,598.34 688.61,598.29 689.16,598.14 689.70,598.10 690.25,598.04 690.84,597.80 691.44,597.84 692.03,597.84 692.62,597.81 693.22,597.80 693.81,597.82 694.41,597.69 695.00,597.64 695.54,597.77 696.07,597.52 696.61,597.48 697.14,597.28 697.68,597.09 698.21,597.03 698.75,597.07 699.29,597.32 699.82,597.24 700.36,597.34 700.89,597.36 701.43,597.28 701.96,596.69 702.50,596.72 703.04,596.72 703.57,596.53 704.11,596.56 704.64,596.80 705.18,596.55 705.71,596.44 706.25,596.58 706.79,596.24 707.32,596.07 707.86,596.14 708.39,596.30 708.93,596.46 709.46,596.52 710.00,596.81 710.54,596.62 711.07,596.16 711.61,595.93 712.14,595.84 712.68,595.70 713.21,595.18 713.75,595.10 714.29,594.81 714.82,594.64 715.36,594.75 715.89,594.55 716.43,594.27 716.96,594.09 717.50,593.84 718.04,594.12 718.57,594.14 719.11,594.16 719.64,593.90 720.18,593.68 720.71,593.63 721.25,593.17 721.79,593.30 722.32,593.02 722.86,593.00 723.39,593.01 723.93,592.82 724.46,592.83 725.00,592.89 725.54,593.12 726.07,593.05 726.61,593.21 727.14,593.11 727.68,592.91 728.21,592.90 728.75,592.65 729.29,592.54 729.82,592.51 730.36,592.56 730.89,592.44 731.43,592.04 731.96,592.16 732.50,592.05 733.05,592.00 733.59,591.88 734.14,592.02 734.68,592.10 735.23,592.23 735.77,592.22 736.32,592.49 736.86,592.43 737.41,592.49 737.95,592.52 738.50,592.69 739.05,592.56 739.59,592.52 740.14,592.51 740.68,592.43 741.23,592.38 741.77,592.25 742.32,592.47 742.86,592.79 743.41,592.65 743.95,592.84 744.50,592.68 745.05,592.33 745.59,592.09 746.14,591.92 746.68,591.79 747.23,591.26 747.77,590.87 748.32,590.74 748.86,590.54 749.41,590.73 749.95,590.45 750.50,590.11 751.05,590.29 751.59,589.79 752.14,589.49 752.68,589.99 753.23,589.85 753.77,589.84 754.32,589.78 754.86,589.61 755.41,589.58 755.95,589.36 756.50,589.54 757.05,589.65 757.59,589.72 758.14,589.50 758.68,589.15 759.23,589.08 759.77,588.92 760.32,589.02 760.86,588.77 761.41,588.67 761.95,588.74 762.50,588.85 763.04,588.83 763.57,588.57 764.11,588.43 764.64,588.74 765.18,588.81 765.71,588.56 766.25,588.79 766.79,588.63 767.32,588.50 767.86,588.24 768.39,588.39 768.93,588.27 769.46,588.12 770.00,587.84 770.54,587.53 771.07,587.50 771.61,587.43 772.14,587.61 772.68,587.34 773.21,587.19 773.75,587.27 774.29,587.29 774.82,587.04 775.36,587.18 775.89,587.11 776.43,587.11 776.96,587.00 777.50,586.99 778.04,586.76 778.57,586.59 779.11,586.64 779.64,586.56 780.18,586.48 780.71,586.52 781.25,586.39 781.79,586.30 782.32,585.79 782.86,585.62 783.39,585.68 783.93,585.45 784.46,585.33 785.00,585.31 785.54,585.22 786.07,585.29 786.61,585.27 787.14,585.14 787.68,585.22 788.21,585.04 788.75,584.82 789.29,584.79 789.82,584.80 790.36,584.67 790.89,584.40 791.43,584.25 791.96,584.23 792.50,584.28 793.04,584.42 793.57,584.21 794.11,583.99 794.64,583.47 795.18,583.58 795.71,583.58 796.25,583.42 796.79,583.14 797.32,582.57 797.86,582.62 798.39,582.39 798.93,582.55 799.46,582.54 800.00,582.60 800.54,582.23 801.07,582.10 801.61,581.52 802.14,581.45 802.68,581.11 803.21,580.58 803.75,580.22 804.29,579.78 804.82,579.57 805.36,579.18 805.89,578.72 806.43,578.43 806.96,578.17 807.50,577.98 808.04,578.00 808.57,578.09 809.11,578.01 809.64,578.12 810.18,577.51 810.71,577.37 811.25,577.41 811.79,577.04 812.32,576.89 812.86,576.82 813.39,576.45 813.93,576.27 814.46,576.30 815.00,576.15 815.54,576.30 816.07,576.55 816.61,576.33 817.14,575.94 817.68,575.79 818.21,575.55 818.75,575.18 819.29,575.02 819.82,574.86 820.36,574.72 820.89,574.79 821.43,574.85 821.96,574.77 822.50,574.55 823.04,574.56 823.57,574.49 824.11,574.45 824.64,574.22 825.18,573.67 825.71,573.86 826.25,573.76 826.79,573.68 827.32,573.69 827.86,573.68 828.39,573.62 828.93,573.87 829.46,573.83 830.00,573.81 830.54,573.60 831.07,573.55 831.61,573.59 832.14,573.52 832.68,573.52 833.21,573.31 833.75,573.33 834.29,573.12 834.82,573.03 835.36,572.89 835.89,572.92 836.43,573.08 836.96,573.08 837.50,572.88 838.04,572.74 838.57,572.75 839.11,572.67 839.64,572.54 840.18,572.13 840.71,571.86 841.25,571.58 841.79,571.35 842.32,571.25 842.86,571.10 843.39,570.88 843.93,570.82 844.46,570.53 845.00,570.32 845.54,570.26 846.08,569.95 846.62,569.75 847.16,569.48 847.70,569.29 848.24,569.27 848.78,569.23 849.32,569.26 849.86,569.26 850.41,569.00 850.95,569.26 851.49,569.38 852.03,569.03 852.57,568.81 853.11,568.64 853.65,568.60 854.19,568.61 854.73,568.50 855.27,567.97 855.81,568.40 856.35,568.41 856.89,568.39 857.43,568.10 857.97,567.98 858.51,568.00 859.05,567.77 859.59,567.82 860.14,567.67 860.68,567.77 861.22,567.59 861.76,567.65 862.30,567.18 862.84,567.27 863.38,567.16 863.92,566.92 864.46,566.93 865.00,566.71 865.55,566.73 866.09,566.75 866.64,566.78 867.18,566.98 867.73,567.00 868.27,567.20 868.82,567.05 869.36,566.83 869.91,566.67 870.45,566.46 871.00,566.08 871.55,565.98 872.09,565.66 872.64,565.54 873.18,565.42 873.73,565.27 874.27,565.05 874.82,565.05 875.36,565.01 875.91,565.20 876.45,565.23 877.00,565.29 877.55,564.94 878.09,564.64 878.64,564.20 879.18,563.85 879.73,563.79 880.27,563.54 880.82,563.31 881.36,563.02 881.91,563.08 882.45,562.83 883.00,562.78 883.55,562.51 884.09,562.41 884.64,561.97 885.18,561.51 885.73,561.48 886.27,561.20 886.82,561.02 887.36,560.93 887.91,560.78 888.45,560.56 889.00,560.09 889.55,559.75 890.09,559.55 890.64,559.44 891.18,559.29 891.73,559.11 892.27,558.73 892.82,558.50 893.36,558.44 893.91,558.04 894.45,557.73 895.00,557.67 895.54,557.90 896.08,557.90 896.62,557.83 897.16,557.61 897.70,557.56 898.24,557.41 898.78,557.43 899.32,557.54 899.86,557.58 900.41,557.76 900.95,557.52 901.49,557.28 902.03,557.51 902.57,557.64 903.11,557.42 903.65,557.42 904.19,557.21 904.73,557.21 905.27,557.26 905.81,557.41 906.35,557.21 906.89,557.00 907.43,557.11 907.97,557.06 908.51,557.30 909.05,557.08 909.59,556.97 910.14,556.54 910.68,556.81 911.22,557.06 911.76,557.12 912.30,557.05 912.84,556.71 913.38,556.53 913.92,556.51 914.46,556.90 915.00,557.05 915.53,556.97 916.07,557.09 916.60,557.21 917.13,557.31 917.67,557.16 918.20,557.12 918.73,557.33 919.27,557.46 919.80,557.41 920.33,557.82 920.87,557.82 921.40,557.71 921.93,557.84 922.47,557.94 923.00,557.87 923.53,558.14 924.07,558.25 924.60,558.17 925.13,558.23 925.67,558.27 926.20,558.16 926.73,558.24 927.27,558.10 927.80,558.04 928.33,558.14 928.87,557.92 929.40,557.89 929.93,557.77 930.47,557.94 931.00,557.89 931.54,558.13 932.08,558.27 932.62,558.01 933.15,557.92 933.69,557.75 934.23,557.65 934.77,557.67 935.31,557.80 935.85,558.01 936.38,558.12 936.92,557.69 937.46,557.45 938.00,557.28 938.54,557.11 939.08,557.02 939.62,557.02 940.15,556.83 940.69,556.64 941.23,556.94 941.77,556.91 942.31,557.12 942.85,556.83 943.38,556.89 943.92,556.98 944.46,556.98 945.00,556.63 945.55,556.65 946.09,556.46 946.64,556.25 947.18,556.26 947.73,556.37 948.27,556.34 948.82,556.34 949.36,556.46 949.91,556.36 950.45,556.46 951.00,556.61 951.55,556.72 952.09,556.81 952.64,556.62 953.18,556.60 953.73,556.55 954.27,556.71 954.82,556.45 955.36,556.54 955.91,556.34 956.45,556.55 957.00,556.54 957.53,556.65 958.07,556.89 958.60,557.22 959.13,557.07 959.67,557.14 960.20,556.86 960.73,556.93 961.27,556.91 961.80,557.13 962.33,557.19 962.87,557.28 963.40,557.17 963.93,557.22 964.47,557.14 965.00,557.26 965.56,557.25 966.11,557.57 966.67,558.01 967.22,558.66 967.78,559.04 968.33,559.37 968.89,559.58 969.44,559.92 970.00,559.97 970.56,560.12 971.11,559.90 971.67,559.97 972.22,560.33 972.78,560.20 973.33,560.45 973.89,560.63 974.44,560.76 975.00,561.01 975.56,561.16 976.11,561.12 976.67,561.28 977.22,561.16 977.78,561.62 978.33,561.78 978.89,562.09 979.44,562.07 980.00,562.53 980.56,562.81 981.11,562.95 981.67,563.07 982.22,563.22 982.78,563.19 983.33,563.29 983.89,563.38 984.44,563.58 985.00,563.95 985.56,564.08 986.11,564.04 986.67,564.07 987.22,563.94 987.78,563.79 988.33,563.49 988.89,563.29 989.44,563.14 990.00,563.19 990.56,563.22 991.11,563.34 991.67,563.56 992.22,563.66 992.78,563.61 993.33,563.52 993.89,563.47 994.44,563.57 995.00,563.41 995.56,563.27 996.12,563.39 996.69,563.71 997.25,564.01 997.81,564.19 998.38,563.93 998.94,564.02 999.50,564.26 1000.10,564.05 1000.70,563.93 1001.30,563.31 1001.90,562.95 1002.50,562.26 1003.06,562.35 1003.62,562.41 1004.19,562.68 1004.75,562.81 1005.31,562.63 1005.88,562.76 1006.44,562.97 1007.00,563.34 1007.60,562.81 1008.20,562.28 1008.80,561.82 1009.40,561.64 1010.00,561.20 1010.55,561.43 1011.09,561.71 1011.64,561.78 1012.18,562.18 1012.73,562.10 1013.27,562.63 1013.82,562.70 1014.36,562.76 1014.91,562.86 1015.45,562.92 1016.00,563.04 1016.55,562.72 1017.09,562.34 1017.64,562.14 1018.18,562.01 1018.73,561.71 1019.27,561.54 1019.82,561.19 1020.36,561.02 1020.91,560.74 1021.45,560.34 1022.00,560.16 1022.54,560.08 1023.07,559.92 1023.61,559.87 1024.14,559.90 1024.68,559.62 1025.21,559.49 1025.75,559.55 1026.29,559.47 1026.82,559.52 1027.36,559.81 1027.89,559.44 1028.43,559.37 1028.96,559.18 1029.50,559.29 1030.05,558.68 1030.59,557.75 1031.14,557.26 1031.68,556.57 1032.23,555.83 1032.77,555.17 1033.32,554.53 1033.86,553.72 1034.41,553.01 1034.95,552.59 1035.50,551.75 1036.10,551.96 1036.70,552.41 1037.30,552.55 1037.90,552.84 1038.50,553.22 1039.06,552.93 1039.62,552.75 1040.19,552.48 1040.75,552.34 1041.31,552.28 1041.88,552.16 1042.44,552.07 1043.00,551.99 1043.56,551.97 1044.12,551.62 1044.69,551.49 1045.25,551.60 1045.81,551.37 1046.38,551.14 1046.94,550.97 1047.50,550.68 1048.04,550.73 1048.57,550.67 1049.11,550.58 1049.64,550.65 1050.18,550.78 1050.71,550.44 1051.25,550.30 1051.79,550.22 1052.32,549.95 1052.86,550.06 1053.39,550.38 1053.93,550.42 1054.46,550.52 1055.00,550.07 1055.60,549.54 1056.20,548.87 1056.80,548.59 1057.40,548.13 1058.00,547.66 1058.56,547.63 1059.12,547.64 1059.69,547.76 1060.25,547.80 1060.81,547.74 1061.38,547.25 1061.94,547.30 1062.50,547.12 1063.06,546.69 1063.62,546.59 1064.19,546.42 1064.75,546.28 1065.31,546.32 1065.88,545.95 1066.44,545.95 1067.00,546.02 1067.54,545.65 1068.07,545.73 1068.61,545.43 1069.14,545.14 1069.68,545.16 1070.21,544.99 1070.75,544.52 1071.29,544.30 1071.82,544.31 1072.36,544.10 1072.89,543.90 1073.43,543.80 1073.96,543.68 1074.50,543.44 1075.10,543.54 1075.70,543.89 1076.30,544.34 1076.90,544.13 1077.50,544.48 1078.05,544.45 1078.59,544.09 1079.14,544.13 1079.68,543.63 1080.23,543.59 1080.77,543.63 1081.32,543.60 1081.86,542.85 1082.41,542.64 1082.95,542.25 1083.50,542.11 1084.05,541.34 1084.59,540.36 1085.14,539.58 1085.68,538.21 1086.23,537.04 1086.77,535.95 1087.32,535.06 1087.86,534.25 1088.41,533.06 1088.95,531.89 1089.50,531.00 1090.25,529.31 1090.84,528.62 1091.44,527.69 1092.03,526.89 1092.62,526.45 1093.22,525.56 1093.81,524.73 1094.41,523.77 1095.00,523.06 1095.56,522.96 1096.11,522.69 1096.67,522.08 1097.22,521.79 1097.78,521.69 1098.33,521.14 1098.89,520.76 1099.44,520.26 1100.00,519.84 1100.56,519.54 1101.11,519.20 1101.67,519.19 1102.22,519.07 1102.78,518.59 1103.33,518.34 1103.89,518.17 1104.44,517.93 1105.00,517.91 1105.56,517.98 1106.11,518.12 1106.67,517.96 1107.22,517.93 1107.78,517.95 1108.33,517.98 1108.89,518.01 1109.44,517.97 1110.00,518.04 1110.57,517.88 1111.14,517.28 1111.71,516.54 1112.29,516.17 1112.86,515.57 1113.43,515.28 1114.00,514.99 1114.56,515.04 1115.11,514.80 1115.67,514.26 1116.22,514.31 1116.78,514.21 1117.33,514.15 1117.89,513.86 1118.44,513.51 1119.00,513.25 1119.60,511.70 1120.20,510.68 1120.80,509.37 1121.40,508.07 1122.00,506.95 1122.60,506.62 1123.20,506.58 1123.80,506.28 1124.40,506.49 1125.00,506.45 1125.57,506.49 1126.14,506.46 1126.71,506.40 1127.29,506.25 1127.86,505.89 1128.43,505.82 1129.00,505.72 1129.60,505.89 1130.20,506.15 1130.80,506.09 1131.40,506.17 1132.00,506.36 1132.60,508.20 1133.20,510.25 1133.80,512.55 1134.40,514.30 1135.00,516.19 1135.67,516.83 1136.33,517.51 1137.00,518.44 1137.60,519.80 1138.20,521.23 1138.80,522.57 1139.40,523.80 1140.00,525.00 1140.60,524.90 1141.20,524.80 1141.80,524.70 1142.40,524.60 1143.00,524.50 1143.60,522.00 1144.20,519.50 1144.80,517.00 1145.40,514.50 1146.00,512.00 1146.67,508.33 1147.33,504.67 1148.00,501.00 1148.60,498.60 1149.20,496.20 1149.80,493.80 1150.40,491.40 1151.00,489.00 1152.00,480.00 1152.67,479.00 1153.33,478.00 1154.00,477.00 1154.75,476.50 1155.50,476.00 1156.00,484.00 1157.00,484.00 1158.00,474.00 1159.00,473.00 1160.00,484.00 1161.00,484.00 1162.00,472.00 1163.00,473.00 1163.50,486.00 1164.00,488.00 1164.00,514.00 1165.00,486.00 1166.00,490.00 1166.00,514.00 1166.50,495.00" stroke="#800080" stroke-width="2.5"/>
</g>
<path d="M102.5,7.5H1167.5V731.5H102.5Z M102.50,731.5V740 M368.75,731.5V740 M368.75,7.5V-1 M635.00,731.5V740 M635.00,7.5V-1 M901.25,731.5V740 M901.25,7.5V-1 M1167.50,731.5V740 M102.5,731.50H94 M1167.5,731.50H1176 M102.5,610.83H94 M1167.5,610.83H1176 M102.5,490.17H94 M1167.5,490.17H1176 M102.5,369.50H94 M1167.5,369.50H1176 M102.5,248.83H94 M1167.5,248.83H1176 M102.5,128.17H94 M1167.5,128.17H1176 M102.5,7.50H94 M1167.5,7.50H1176" fill="none" stroke="#000" stroke-width="1" shape-rendering="crispEdges"/>
<text x="102.20" y="763" text-anchor="middle">0</text><text x="368.45" y="763" text-anchor="middle">500</text><text x="634.70" y="763" text-anchor="middle">1000</text><text x="900.95" y="763" text-anchor="middle">1500</text><text x="1167.20" y="763" text-anchor="middle">2000</text>
<text x="81" y="736.50" text-anchor="end">0</text><text x="81" y="615.83" text-anchor="end">2</text><text x="81" y="495.17" text-anchor="end">4</text><text x="81" y="374.50" text-anchor="end">6</text><text x="81" y="253.83" text-anchor="end">8</text><text x="81" y="133.17" text-anchor="end">10</text><text x="81" y="12.50" text-anchor="end">12</text>
<text x="631.5" y="791" text-anchor="middle">time / ps</text>
<text transform="translate(37.6,370.1) rotate(-90)" x="0" y="0" text-anchor="middle">MSD / Å^2</text>
<text x="1086" y="28.8" text-anchor="end">3% polymer, E=50 V/mm, npt</text><path d="M1098,24.0H1148" stroke="#ff3535" stroke-width="2"/><text x="1086" y="47.8" text-anchor="end">5% polymer, E=50 V/mm, npt</text><path d="M1098,43.0H1148" stroke="#2ab870" stroke-width="2"/><text x="1086" y="66.8" text-anchor="end">8% polymer, E=50 V/mm, npt</text><path d="M1098,62.0H1148" stroke="#1a1ac0" stroke-width="2"/><text x="1086" y="85.8" text-anchor="end">16% polymer, E=50 V/mm, npt</text><path d="M1098,81.0H1148" stroke="#800080" stroke-width="2"/>
</svg>
</body></html>
